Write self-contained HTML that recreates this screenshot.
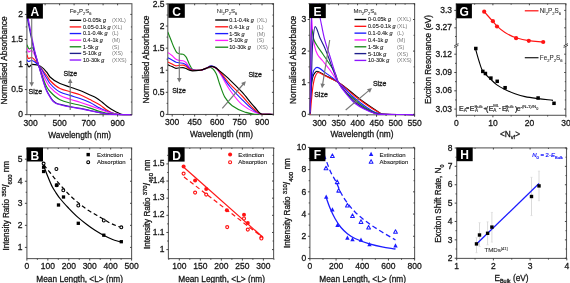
<!DOCTYPE html><html><head><meta charset="utf-8"><style>html,body{margin:0;padding:0;background:#fff;width:570px;height:283px;overflow:hidden;}svg{display:block;will-change:transform;filter:blur(0.3px);}</style></head><body>
<svg width="570" height="283" viewBox="0 0 570 283" font-family='"Liberation Sans", sans-serif'>
<rect width="570" height="283" fill="#fff"/>
<defs><clipPath id="cA"><rect x="26.90" y="3.70" width="105.00" height="111.80"/></clipPath></defs>
<rect x="26.90" y="3.70" width="105.00" height="110.90" fill="none" stroke="#5c5c5c" stroke-width="1.1"/>
<path d="M26.90,63.20 C27.60,64.47 28.30,67.00 29.00,67.00 C30.00,67.00 31.00,64.30 32.00,64.30 C34.20,64.30 36.40,64.75 38.60,65.30 C41.27,65.97 43.93,69.05 46.60,72.00 C47.73,73.26 48.87,75.90 50.00,77.00 C53.33,80.24 56.67,82.10 60.00,83.60 C63.33,85.10 66.67,85.85 70.00,87.00 C73.33,88.15 76.67,89.19 80.00,90.50 C83.33,91.81 86.67,93.47 90.00,95.00 C92.00,95.92 94.00,96.68 96.00,97.80 C98.00,98.92 100.00,100.48 102.00,102.00 C104.00,103.52 106.00,105.56 108.00,107.00 C110.00,108.44 112.00,109.69 114.00,110.80 C115.33,111.54 116.67,112.24 118.00,112.80 C119.67,113.50 121.33,114.60 123.00,114.60 C125.97,114.60 128.93,114.60 131.90,114.60" fill="none" stroke="#000000" stroke-width="1.15" stroke-linejoin="round" stroke-linecap="butt" clip-path="url(#cA)"/>
<path d="M26.90,54.70 C27.43,55.97 27.97,58.50 28.50,58.50 C29.50,58.50 30.50,57.50 31.50,57.50 C33.87,57.50 36.23,62.51 38.60,65.30 C41.27,68.44 43.93,71.82 46.60,75.50 C47.73,77.06 48.87,79.27 50.00,80.50 C53.33,84.10 56.67,86.85 60.00,88.40 C63.33,89.95 66.67,90.63 70.00,91.70 C73.33,92.77 76.67,93.54 80.00,94.80 C83.33,96.06 86.67,97.91 90.00,99.60 C93.33,101.29 96.67,102.88 100.00,105.00 C102.00,106.27 104.00,108.23 106.00,109.50 C108.00,110.77 110.00,112.15 112.00,112.80 C114.67,113.67 117.33,114.60 120.00,114.60 C123.97,114.60 127.93,114.60 131.90,114.60" fill="none" stroke="#ff1414" stroke-width="1.15" stroke-linejoin="round" stroke-linecap="butt" clip-path="url(#cA)"/>
<path d="M26.90,60.00 C27.43,60.50 27.97,61.50 28.50,61.50 C29.50,61.50 30.50,60.50 31.50,60.50 C33.87,60.50 36.23,63.07 38.60,65.30 C41.27,67.81 43.93,73.72 46.60,78.00 C47.73,79.82 48.87,82.17 50.00,83.50 C53.33,87.41 56.67,90.38 60.00,92.00 C63.33,93.62 66.67,94.32 70.00,95.40 C73.33,96.48 76.67,97.34 80.00,98.50 C83.33,99.66 86.67,100.94 90.00,102.50 C93.33,104.06 96.67,106.48 100.00,108.10 C103.33,109.72 106.67,111.36 110.00,112.40 C112.67,113.23 115.33,114.25 118.00,114.40 C120.00,114.51 122.00,114.60 124.00,114.60 C126.63,114.60 129.27,114.60 131.90,114.60" fill="none" stroke="#1c1cff" stroke-width="1.15" stroke-linejoin="round" stroke-linecap="butt" clip-path="url(#cA)"/>
<path d="M26.90,47.70 C27.43,49.13 27.97,52.00 28.50,52.00 C29.50,52.00 30.50,50.50 31.50,50.50 C33.87,50.50 36.23,60.39 38.60,65.30 C41.27,70.83 43.93,77.10 46.60,81.80 C47.73,83.80 48.87,85.91 50.00,87.20 C53.33,91.00 56.67,93.67 60.00,95.40 C63.33,97.13 66.67,98.08 70.00,99.20 C73.33,100.32 76.67,101.14 80.00,102.20 C83.33,103.26 86.67,104.42 90.00,105.60 C93.33,106.78 96.67,108.12 100.00,109.30 C103.33,110.48 106.67,111.84 110.00,112.70 C112.67,113.39 115.33,114.25 118.00,114.40 C120.00,114.51 122.00,114.60 124.00,114.60 C126.63,114.60 129.27,114.60 131.90,114.60" fill="none" stroke="#ff1cff" stroke-width="1.15" stroke-linejoin="round" stroke-linecap="butt" clip-path="url(#cA)"/>
<path d="M26.90,44.80 C27.67,46.20 28.43,49.00 29.20,49.00 C30.13,49.00 31.07,47.50 32.00,47.50 C34.20,47.50 36.40,59.39 38.60,65.30 C41.27,72.46 43.93,81.97 46.60,86.70 C47.73,88.71 48.87,90.27 50.00,91.50 C53.33,95.12 56.67,98.13 60.00,99.70 C63.33,101.27 66.67,102.10 70.00,103.00 C73.33,103.90 76.67,104.46 80.00,105.30 C83.33,106.14 86.67,107.08 90.00,108.10 C93.33,109.12 96.67,110.61 100.00,111.50 C103.33,112.39 106.67,113.25 110.00,113.70 C112.67,114.06 115.33,114.46 118.00,114.50 C122.63,114.57 127.27,114.57 131.90,114.60" fill="none" stroke="#1a8a1a" stroke-width="1.15" stroke-linejoin="round" stroke-linecap="butt" clip-path="url(#cA)"/>
<path d="M26.90,16.00 C28.60,24.33 30.30,33.22 32.00,41.00 C33.00,45.58 34.00,50.34 35.00,54.00 C36.20,58.39 37.40,61.55 38.60,65.30 C41.27,73.64 43.93,84.34 46.60,90.20 C47.73,92.69 48.87,94.50 50.00,96.30 C51.00,97.89 52.00,99.60 53.00,100.60 C54.00,101.60 55.00,102.41 56.00,102.90 C57.33,103.55 58.67,103.92 60.00,104.30 C63.33,105.25 66.67,105.95 70.00,106.60 C73.33,107.25 76.67,107.66 80.00,108.30 C83.33,108.94 86.67,109.78 90.00,110.50 C93.33,111.22 96.67,111.99 100.00,112.60 C103.33,113.21 106.67,113.95 110.00,114.20 C112.67,114.40 115.33,114.60 118.00,114.60 C122.63,114.60 127.27,114.60 131.90,114.60" fill="none" stroke="#1e1e8c" stroke-width="1.15" stroke-linejoin="round" stroke-linecap="butt" clip-path="url(#cA)"/>
<path d="M26.90,12.00 C28.60,20.67 30.30,29.75 32.00,38.00 C33.00,42.85 34.00,47.86 35.00,52.00 C36.20,56.97 37.40,61.13 38.60,65.30 C41.27,74.56 43.93,85.25 46.60,91.10 C47.73,93.59 48.87,95.33 50.00,97.10 C51.00,98.66 52.00,100.37 53.00,101.30 C54.00,102.23 55.00,102.95 56.00,103.40 C57.33,104.00 58.67,104.33 60.00,104.70 C63.33,105.62 66.67,106.37 70.00,107.00 C73.33,107.63 76.67,107.99 80.00,108.60 C83.33,109.21 86.67,110.02 90.00,110.70 C93.33,111.38 96.67,112.09 100.00,112.70 C103.33,113.31 106.67,114.26 110.00,114.40 C112.67,114.51 115.33,114.60 118.00,114.60 C122.63,114.60 127.27,114.60 131.90,114.60" fill="none" stroke="#8c14ff" stroke-width="1.15" stroke-linejoin="round" stroke-linecap="butt" clip-path="url(#cA)"/>
<line x1="30.60" y1="114.60" x2="30.60" y2="116.60" stroke="#333" stroke-width="0.90" />
<line x1="30.60" y1="3.70" x2="30.60" y2="5.30" stroke="#333" stroke-width="0.90" />
<line x1="45.10" y1="114.60" x2="45.10" y2="116.60" stroke="#333" stroke-width="0.90" />
<line x1="45.10" y1="3.70" x2="45.10" y2="5.30" stroke="#333" stroke-width="0.90" />
<line x1="59.60" y1="114.60" x2="59.60" y2="116.60" stroke="#333" stroke-width="0.90" />
<line x1="59.60" y1="3.70" x2="59.60" y2="5.30" stroke="#333" stroke-width="0.90" />
<line x1="74.10" y1="114.60" x2="74.10" y2="116.60" stroke="#333" stroke-width="0.90" />
<line x1="74.10" y1="3.70" x2="74.10" y2="5.30" stroke="#333" stroke-width="0.90" />
<line x1="88.60" y1="114.60" x2="88.60" y2="116.60" stroke="#333" stroke-width="0.90" />
<line x1="88.60" y1="3.70" x2="88.60" y2="5.30" stroke="#333" stroke-width="0.90" />
<line x1="103.10" y1="114.60" x2="103.10" y2="116.60" stroke="#333" stroke-width="0.90" />
<line x1="103.10" y1="3.70" x2="103.10" y2="5.30" stroke="#333" stroke-width="0.90" />
<line x1="117.60" y1="114.60" x2="117.60" y2="116.60" stroke="#333" stroke-width="0.90" />
<line x1="117.60" y1="3.70" x2="117.60" y2="5.30" stroke="#333" stroke-width="0.90" />
<line x1="26.90" y1="114.60" x2="24.90" y2="114.60" stroke="#333" stroke-width="0.90" />
<line x1="131.90" y1="114.60" x2="130.30" y2="114.60" stroke="#333" stroke-width="0.90" />
<line x1="26.90" y1="89.55" x2="24.90" y2="89.55" stroke="#333" stroke-width="0.90" />
<line x1="131.90" y1="89.55" x2="130.30" y2="89.55" stroke="#333" stroke-width="0.90" />
<line x1="26.90" y1="64.50" x2="24.90" y2="64.50" stroke="#333" stroke-width="0.90" />
<line x1="131.90" y1="64.50" x2="130.30" y2="64.50" stroke="#333" stroke-width="0.90" />
<line x1="26.90" y1="39.45" x2="24.90" y2="39.45" stroke="#333" stroke-width="0.90" />
<line x1="131.90" y1="39.45" x2="130.30" y2="39.45" stroke="#333" stroke-width="0.90" />
<line x1="26.90" y1="14.40" x2="24.90" y2="14.40" stroke="#333" stroke-width="0.90" />
<line x1="131.90" y1="14.40" x2="130.30" y2="14.40" stroke="#333" stroke-width="0.90" />
<line x1="26.90" y1="102.07" x2="25.70" y2="102.07" stroke="#333" stroke-width="0.90" />
<line x1="131.90" y1="102.07" x2="130.90" y2="102.07" stroke="#333" stroke-width="0.90" />
<line x1="26.90" y1="77.02" x2="25.70" y2="77.02" stroke="#333" stroke-width="0.90" />
<line x1="131.90" y1="77.02" x2="130.90" y2="77.02" stroke="#333" stroke-width="0.90" />
<line x1="26.90" y1="51.97" x2="25.70" y2="51.97" stroke="#333" stroke-width="0.90" />
<line x1="131.90" y1="51.97" x2="130.90" y2="51.97" stroke="#333" stroke-width="0.90" />
<line x1="26.90" y1="26.92" x2="25.70" y2="26.92" stroke="#333" stroke-width="0.90" />
<line x1="131.90" y1="26.92" x2="130.90" y2="26.92" stroke="#333" stroke-width="0.90" />
<text x="30.60" y="125.97" font-size="8.50" text-anchor="middle" fill="#161616" stroke="#161616" stroke-width="0.28" >300</text>
<text x="59.60" y="125.97" font-size="8.50" text-anchor="middle" fill="#161616" stroke="#161616" stroke-width="0.28" >500</text>
<text x="88.60" y="125.97" font-size="8.50" text-anchor="middle" fill="#161616" stroke="#161616" stroke-width="0.28" >700</text>
<text x="117.60" y="125.97" font-size="8.50" text-anchor="middle" fill="#161616" stroke="#161616" stroke-width="0.28" >900</text>
<text x="23.00" y="117.27" font-size="8.50" text-anchor="end" fill="#161616" stroke="#161616" stroke-width="0.28" >0</text>
<text x="23.00" y="92.22" font-size="8.50" text-anchor="end" fill="#161616" stroke="#161616" stroke-width="0.28" >0.5</text>
<text x="23.00" y="67.17" font-size="8.50" text-anchor="end" fill="#161616" stroke="#161616" stroke-width="0.28" >1</text>
<text x="23.00" y="42.12" font-size="8.50" text-anchor="end" fill="#161616" stroke="#161616" stroke-width="0.28" >1.5</text>
<text x="23.00" y="17.07" font-size="8.50" text-anchor="end" fill="#161616" stroke="#161616" stroke-width="0.28" >2</text>
<text x="79.70" y="137.91" font-size="8.30" text-anchor="middle" fill="#161616" stroke="#161616" stroke-width="0.28" >Wavelength (nm)</text>
<text transform="translate(7.00,60.50) rotate(-90)" font-size="8.30" text-anchor="middle" fill="#161616" stroke="#161616" stroke-width="0.28">Normalised Absorbance</text>
<rect x="26.60" y="3.90" width="16.30" height="14.70" fill="#000"/>
<text x="34.75" y="16.29" font-size="12" font-weight="bold" text-anchor="middle" fill="#fff">A</text>
<line x1="31.70" y1="18.60" x2="31.70" y2="83.10" stroke="#777" stroke-width="1.15" />
<path d="M31.70,86.80 L29.40,82.30 L34.00,82.30 Z" fill="#777"/>
<text x="35.30" y="93.65" font-size="7.00" text-anchor="middle" fill="#161616" stroke="#161616" stroke-width="0.28" >Size</text>
<line x1="70.20" y1="110.00" x2="70.20" y2="82.30" stroke="#777" stroke-width="1.15" />
<path d="M70.20,78.60 L72.50,83.10 L67.90,83.10 Z" fill="#777"/>
<text x="70.40" y="76.25" font-size="7.00" text-anchor="middle" fill="#161616" stroke="#161616" stroke-width="0.28" >Size</text>
<text x="69.70" y="13.40" font-size="6.00" text-anchor="start" fill="#333" stroke="#333" stroke-width="0.10" ><tspan font-size="6.00" dy="0.00">Fe</tspan><tspan font-size="3.96" dy="1.80">2</tspan><tspan font-size="6.00" dy="-1.80">P</tspan><tspan font-size="3.96" dy="1.80">2</tspan><tspan font-size="6.00" dy="-1.80">S</tspan><tspan font-size="3.96" dy="1.80">6</tspan></text>
<line x1="69.70" y1="20.30" x2="81.20" y2="20.30" stroke="#000000" stroke-width="1.35" />
<text x="83.00" y="22.23" font-size="5.50" fill="#222" stroke="#222" stroke-width="0.12">0-0.05k <tspan font-style="italic">g</tspan></text>
<text x="111.90" y="22.23" font-size="5.50" fill="#7c7c7c">(XXL)</text>
<line x1="69.70" y1="26.92" x2="81.20" y2="26.92" stroke="#ff1414" stroke-width="1.35" />
<text x="83.00" y="28.85" font-size="5.50" fill="#222" stroke="#222" stroke-width="0.12">0.05-0.1k <tspan font-style="italic">g</tspan></text>
<text x="111.90" y="28.85" font-size="5.50" fill="#7c7c7c">(XL)</text>
<line x1="69.70" y1="33.54" x2="81.20" y2="33.54" stroke="#1c1cff" stroke-width="1.35" />
<text x="83.00" y="35.46" font-size="5.50" fill="#222" stroke="#222" stroke-width="0.12">0.1-0.4k <tspan font-style="italic">g</tspan></text>
<text x="111.90" y="35.46" font-size="5.50" fill="#7c7c7c">(L)</text>
<line x1="69.70" y1="40.16" x2="81.20" y2="40.16" stroke="#ff1cff" stroke-width="1.35" />
<text x="83.00" y="42.08" font-size="5.50" fill="#222" stroke="#222" stroke-width="0.12">0.4-1k <tspan font-style="italic">g</tspan></text>
<text x="111.90" y="42.08" font-size="5.50" fill="#7c7c7c">(M)</text>
<line x1="69.70" y1="46.78" x2="81.20" y2="46.78" stroke="#1a8a1a" stroke-width="1.35" />
<text x="83.00" y="48.70" font-size="5.50" fill="#222" stroke="#222" stroke-width="0.12">1-5k <tspan font-style="italic">g</tspan></text>
<text x="111.90" y="48.70" font-size="5.50" fill="#7c7c7c">(S)</text>
<line x1="69.70" y1="53.40" x2="81.20" y2="53.40" stroke="#1e1e8c" stroke-width="1.35" />
<text x="83.00" y="55.33" font-size="5.50" fill="#222" stroke="#222" stroke-width="0.12">5-10k <tspan font-style="italic">g</tspan></text>
<text x="111.90" y="55.33" font-size="5.50" fill="#7c7c7c">(XS)</text>
<line x1="69.70" y1="60.02" x2="81.20" y2="60.02" stroke="#8c14ff" stroke-width="1.35" />
<text x="83.00" y="61.94" font-size="5.50" fill="#222" stroke="#222" stroke-width="0.12">10-30k <tspan font-style="italic">g</tspan></text>
<text x="111.90" y="61.94" font-size="5.50" fill="#7c7c7c">(XXS)</text>
<defs><clipPath id="cC"><rect x="167.80" y="3.70" width="105.70" height="111.70"/></clipPath></defs>
<rect x="167.80" y="3.70" width="105.70" height="110.80" fill="none" stroke="#5c5c5c" stroke-width="1.1"/>
<path d="M167.80,32.00 C168.87,34.67 169.93,37.33 171.00,40.00 C172.00,42.50 173.00,45.43 174.00,47.50 C175.00,49.57 176.00,52.15 177.00,52.80 C178.00,53.45 179.00,53.84 180.00,54.00 C181.00,54.16 182.00,54.12 183.00,54.30 C184.00,54.48 185.00,55.59 186.00,56.80 C187.00,58.01 188.00,61.59 189.00,63.50 C190.17,65.73 191.33,68.78 192.50,69.30 C193.67,69.82 194.83,70.20 196.00,70.20 C197.43,70.20 198.87,70.11 200.30,70.00 C202.20,69.86 204.10,69.11 206.00,68.60 C207.50,68.20 209.00,67.30 210.50,67.30 C211.50,67.30 212.50,68.49 213.50,69.50 C214.37,70.38 215.23,71.85 216.10,73.60 C217.37,76.15 218.63,81.35 219.90,84.80 C221.53,89.24 223.17,94.42 224.80,97.10 C227.27,101.15 229.73,104.01 232.20,105.80 C236.33,108.80 240.47,110.71 244.60,112.00 C247.90,113.03 251.20,114.23 254.50,114.30 C260.83,114.44 267.17,114.43 273.50,114.50" fill="none" stroke="#1a8a1a" stroke-width="1.15" stroke-linejoin="round" stroke-linecap="butt" clip-path="url(#cC)"/>
<path d="M167.80,52.40 C169.20,53.43 170.60,54.34 172.00,55.50 C173.33,56.61 174.67,58.61 176.00,59.30 C177.00,59.82 178.00,60.24 179.00,60.40 C180.33,60.62 181.67,60.57 183.00,60.80 C184.00,60.98 185.00,61.68 186.00,62.50 C187.00,63.32 188.00,65.90 189.00,67.00 C190.17,68.28 191.33,69.93 192.50,70.00 C195.10,70.15 197.70,70.20 200.30,70.20 C202.20,70.20 204.10,69.14 206.00,68.50 C207.67,67.94 209.33,66.60 211.00,66.60 C212.67,66.60 214.33,67.21 216.00,68.00 C217.33,68.64 218.67,71.51 220.00,73.50 C223.27,78.38 226.53,85.42 229.80,90.00 C233.90,95.75 238.00,101.34 242.10,104.60 C246.23,107.88 250.37,110.37 254.50,112.00 C257.00,112.99 259.50,114.21 262.00,114.30 C265.83,114.43 269.67,114.43 273.50,114.50" fill="none" stroke="#ff1cff" stroke-width="1.15" stroke-linejoin="round" stroke-linecap="butt" clip-path="url(#cC)"/>
<path d="M167.80,57.70 C169.20,58.47 170.60,59.23 172.00,60.00 C173.33,60.73 174.67,61.82 176.00,62.20 C177.00,62.49 178.00,62.66 179.00,62.80 C180.33,62.98 181.67,62.97 183.00,63.20 C184.00,63.37 185.00,64.09 186.00,64.80 C187.00,65.51 188.00,67.25 189.00,68.00 C190.17,68.88 191.33,69.94 192.50,70.00 C195.10,70.14 197.70,70.20 200.30,70.20 C202.20,70.20 204.10,69.06 206.00,68.30 C207.67,67.63 209.33,65.80 211.00,65.80 C212.67,65.80 214.33,66.59 216.00,67.50 C217.33,68.23 218.67,70.74 220.00,72.50 C223.27,76.82 226.53,82.49 229.80,86.50 C233.90,91.53 238.00,95.61 242.10,99.60 C246.23,103.62 250.37,108.18 254.50,110.70 C257.00,112.22 259.50,114.21 262.00,114.30 C265.83,114.44 269.67,114.43 273.50,114.50" fill="none" stroke="#1c1cff" stroke-width="1.15" stroke-linejoin="round" stroke-linecap="butt" clip-path="url(#cC)"/>
<path d="M167.80,62.10 C169.20,62.73 170.60,63.37 172.00,64.00 C173.33,64.60 174.67,65.80 176.00,65.80 C177.33,65.80 178.67,65.41 180.00,65.30 C181.00,65.21 182.00,65.10 183.00,65.10 C184.00,65.10 185.00,65.75 186.00,66.30 C187.00,66.85 188.00,68.50 189.00,69.00 C190.17,69.59 191.33,70.20 192.50,70.20 C195.10,70.20 197.70,70.20 200.30,70.20 C202.20,70.20 204.10,68.98 206.00,68.30 C207.83,67.65 209.67,66.20 211.50,66.20 C213.00,66.20 214.50,67.14 216.00,68.00 C217.33,68.77 218.67,70.56 220.00,72.00 C223.27,75.52 226.53,80.23 229.80,83.80 C233.90,88.28 238.00,91.74 242.10,96.00 C246.23,100.29 250.37,106.24 254.50,109.50 C257.00,111.47 259.50,114.21 262.00,114.30 C265.83,114.44 269.67,114.43 273.50,114.50" fill="none" stroke="#ff1414" stroke-width="1.15" stroke-linejoin="round" stroke-linecap="butt" clip-path="url(#cC)"/>
<path d="M167.80,64.80 C169.20,65.37 170.60,65.90 172.00,66.50 C173.33,67.07 174.67,68.30 176.00,68.30 C177.33,68.30 178.67,67.91 180.00,67.80 C181.00,67.71 182.00,67.60 183.00,67.60 C184.00,67.60 185.00,68.12 186.00,68.50 C187.00,68.88 188.00,69.68 189.00,70.00 C190.17,70.37 191.33,70.80 192.50,70.80 C195.10,70.80 197.70,70.59 200.30,70.30 C202.20,70.09 204.10,69.03 206.00,68.40 C208.00,67.73 210.00,66.40 212.00,66.40 C214.63,66.40 217.27,69.24 219.90,71.10 C223.20,73.42 226.50,76.71 229.80,79.80 C233.90,83.64 238.00,87.72 242.10,92.20 C246.23,96.72 250.37,102.60 254.50,107.00 C257.00,109.66 259.50,114.21 262.00,114.30 C265.83,114.44 269.67,114.43 273.50,114.50" fill="none" stroke="#000000" stroke-width="1.15" stroke-linejoin="round" stroke-linecap="butt" clip-path="url(#cC)"/>
<line x1="172.20" y1="114.50" x2="172.20" y2="116.50" stroke="#333" stroke-width="0.90" />
<line x1="172.20" y1="3.70" x2="172.20" y2="5.30" stroke="#333" stroke-width="0.90" />
<line x1="194.65" y1="114.50" x2="194.65" y2="116.50" stroke="#333" stroke-width="0.90" />
<line x1="194.65" y1="3.70" x2="194.65" y2="5.30" stroke="#333" stroke-width="0.90" />
<line x1="217.11" y1="114.50" x2="217.11" y2="116.50" stroke="#333" stroke-width="0.90" />
<line x1="217.11" y1="3.70" x2="217.11" y2="5.30" stroke="#333" stroke-width="0.90" />
<line x1="239.56" y1="114.50" x2="239.56" y2="116.50" stroke="#333" stroke-width="0.90" />
<line x1="239.56" y1="3.70" x2="239.56" y2="5.30" stroke="#333" stroke-width="0.90" />
<line x1="262.02" y1="114.50" x2="262.02" y2="116.50" stroke="#333" stroke-width="0.90" />
<line x1="262.02" y1="3.70" x2="262.02" y2="5.30" stroke="#333" stroke-width="0.90" />
<line x1="183.43" y1="114.50" x2="183.43" y2="115.70" stroke="#333" stroke-width="0.90" />
<line x1="183.43" y1="3.70" x2="183.43" y2="4.70" stroke="#333" stroke-width="0.90" />
<line x1="205.88" y1="114.50" x2="205.88" y2="115.70" stroke="#333" stroke-width="0.90" />
<line x1="205.88" y1="3.70" x2="205.88" y2="4.70" stroke="#333" stroke-width="0.90" />
<line x1="228.34" y1="114.50" x2="228.34" y2="115.70" stroke="#333" stroke-width="0.90" />
<line x1="228.34" y1="3.70" x2="228.34" y2="4.70" stroke="#333" stroke-width="0.90" />
<line x1="250.79" y1="114.50" x2="250.79" y2="115.70" stroke="#333" stroke-width="0.90" />
<line x1="250.79" y1="3.70" x2="250.79" y2="4.70" stroke="#333" stroke-width="0.90" />
<line x1="273.25" y1="114.50" x2="273.25" y2="115.70" stroke="#333" stroke-width="0.90" />
<line x1="273.25" y1="3.70" x2="273.25" y2="4.70" stroke="#333" stroke-width="0.90" />
<line x1="167.80" y1="114.40" x2="165.80" y2="114.40" stroke="#333" stroke-width="0.90" />
<line x1="273.50" y1="114.40" x2="271.90" y2="114.40" stroke="#333" stroke-width="0.90" />
<line x1="167.80" y1="92.32" x2="165.80" y2="92.32" stroke="#333" stroke-width="0.90" />
<line x1="273.50" y1="92.32" x2="271.90" y2="92.32" stroke="#333" stroke-width="0.90" />
<line x1="167.80" y1="70.24" x2="165.80" y2="70.24" stroke="#333" stroke-width="0.90" />
<line x1="273.50" y1="70.24" x2="271.90" y2="70.24" stroke="#333" stroke-width="0.90" />
<line x1="167.80" y1="48.16" x2="165.80" y2="48.16" stroke="#333" stroke-width="0.90" />
<line x1="273.50" y1="48.16" x2="271.90" y2="48.16" stroke="#333" stroke-width="0.90" />
<line x1="167.80" y1="26.08" x2="165.80" y2="26.08" stroke="#333" stroke-width="0.90" />
<line x1="273.50" y1="26.08" x2="271.90" y2="26.08" stroke="#333" stroke-width="0.90" />
<line x1="167.80" y1="4.00" x2="165.80" y2="4.00" stroke="#333" stroke-width="0.90" />
<line x1="273.50" y1="4.00" x2="271.90" y2="4.00" stroke="#333" stroke-width="0.90" />
<line x1="167.80" y1="103.36" x2="166.60" y2="103.36" stroke="#333" stroke-width="0.90" />
<line x1="273.50" y1="103.36" x2="272.50" y2="103.36" stroke="#333" stroke-width="0.90" />
<line x1="167.80" y1="81.28" x2="166.60" y2="81.28" stroke="#333" stroke-width="0.90" />
<line x1="273.50" y1="81.28" x2="272.50" y2="81.28" stroke="#333" stroke-width="0.90" />
<line x1="167.80" y1="59.20" x2="166.60" y2="59.20" stroke="#333" stroke-width="0.90" />
<line x1="273.50" y1="59.20" x2="272.50" y2="59.20" stroke="#333" stroke-width="0.90" />
<line x1="167.80" y1="37.12" x2="166.60" y2="37.12" stroke="#333" stroke-width="0.90" />
<line x1="273.50" y1="37.12" x2="272.50" y2="37.12" stroke="#333" stroke-width="0.90" />
<line x1="167.80" y1="15.04" x2="166.60" y2="15.04" stroke="#333" stroke-width="0.90" />
<line x1="273.50" y1="15.04" x2="272.50" y2="15.04" stroke="#333" stroke-width="0.90" />
<text x="172.20" y="124.97" font-size="8.50" text-anchor="middle" fill="#161616" stroke="#161616" stroke-width="0.28" >300</text>
<text x="194.65" y="124.97" font-size="8.50" text-anchor="middle" fill="#161616" stroke="#161616" stroke-width="0.28" >450</text>
<text x="217.11" y="124.97" font-size="8.50" text-anchor="middle" fill="#161616" stroke="#161616" stroke-width="0.28" >600</text>
<text x="239.56" y="124.97" font-size="8.50" text-anchor="middle" fill="#161616" stroke="#161616" stroke-width="0.28" >750</text>
<text x="262.02" y="124.97" font-size="8.50" text-anchor="middle" fill="#161616" stroke="#161616" stroke-width="0.28" >900</text>
<text x="164.50" y="117.08" font-size="8.50" text-anchor="end" fill="#161616" stroke="#161616" stroke-width="0.28" >0</text>
<text x="164.50" y="95.00" font-size="8.50" text-anchor="end" fill="#161616" stroke="#161616" stroke-width="0.28" >0.5</text>
<text x="164.50" y="72.92" font-size="8.50" text-anchor="end" fill="#161616" stroke="#161616" stroke-width="0.28" >1</text>
<text x="164.50" y="50.84" font-size="8.50" text-anchor="end" fill="#161616" stroke="#161616" stroke-width="0.28" >1.5</text>
<text x="164.50" y="28.76" font-size="8.50" text-anchor="end" fill="#161616" stroke="#161616" stroke-width="0.28" >2</text>
<text x="164.50" y="6.68" font-size="8.50" text-anchor="end" fill="#161616" stroke="#161616" stroke-width="0.28" >2.5</text>
<text x="221.50" y="137.21" font-size="8.30" text-anchor="middle" fill="#161616" stroke="#161616" stroke-width="0.28" >Wavelength (nm)</text>
<text transform="translate(149.21,59.55) rotate(-90)" font-size="8.30" text-anchor="middle" fill="#161616" stroke="#161616" stroke-width="0.28">Normalised Absorbance</text>
<rect x="168.40" y="4.00" width="16.40" height="13.80" fill="#000"/>
<text x="176.60" y="15.94" font-size="12" font-weight="bold" text-anchor="middle" fill="#fff">C</text>
<line x1="179.30" y1="46.50" x2="179.30" y2="78.80" stroke="#777" stroke-width="1.15" />
<path d="M179.30,82.50 L177.00,78.00 L181.60,78.00 Z" fill="#777"/>
<text x="179.00" y="92.85" font-size="7.00" text-anchor="middle" fill="#161616" stroke="#161616" stroke-width="0.28" >Size</text>
<line x1="222.30" y1="108.30" x2="243.38" y2="84.00" stroke="#777" stroke-width="1.15" />
<path d="M245.80,81.20 L244.59,86.11 L241.11,83.09 Z" fill="#777"/>
<text x="255.20" y="76.55" font-size="7.00" text-anchor="middle" fill="#161616" stroke="#161616" stroke-width="0.28" >Size</text>
<text x="216.80" y="13.10" font-size="6.00" text-anchor="start" fill="#333" stroke="#333" stroke-width="0.10" ><tspan font-size="6.00" dy="0.00">Ni</tspan><tspan font-size="3.96" dy="1.80">2</tspan><tspan font-size="6.00" dy="-1.80">P</tspan><tspan font-size="3.96" dy="1.80">2</tspan><tspan font-size="6.00" dy="-1.80">S</tspan><tspan font-size="3.96" dy="1.80">6</tspan></text>
<line x1="215.20" y1="20.00" x2="228.20" y2="20.00" stroke="#000000" stroke-width="1.35" />
<text x="229.30" y="21.93" font-size="5.50" fill="#222" stroke="#222" stroke-width="0.12">0.1-0.4k <tspan font-style="italic">g</tspan></text>
<text x="256.80" y="21.93" font-size="5.50" fill="#7c7c7c">(XL)</text>
<line x1="215.20" y1="26.80" x2="228.20" y2="26.80" stroke="#ff1414" stroke-width="1.35" />
<text x="229.30" y="28.73" font-size="5.50" fill="#222" stroke="#222" stroke-width="0.12">0.4-1k <tspan font-style="italic">g</tspan></text>
<text x="256.80" y="28.73" font-size="5.50" fill="#7c7c7c">(L)</text>
<line x1="215.20" y1="33.60" x2="228.20" y2="33.60" stroke="#1c1cff" stroke-width="1.35" />
<text x="229.30" y="35.52" font-size="5.50" fill="#222" stroke="#222" stroke-width="0.12">1-5k <tspan font-style="italic">g</tspan></text>
<text x="256.80" y="35.52" font-size="5.50" fill="#7c7c7c">(M)</text>
<line x1="215.20" y1="40.40" x2="228.20" y2="40.40" stroke="#ff1cff" stroke-width="1.35" />
<text x="229.30" y="42.32" font-size="5.50" fill="#222" stroke="#222" stroke-width="0.12">5-10k <tspan font-style="italic">g</tspan></text>
<text x="256.80" y="42.32" font-size="5.50" fill="#7c7c7c">(S)</text>
<line x1="215.20" y1="47.20" x2="228.20" y2="47.20" stroke="#1a8a1a" stroke-width="1.35" />
<text x="229.30" y="49.12" font-size="5.50" fill="#222" stroke="#222" stroke-width="0.12">10-30k <tspan font-style="italic">g</tspan></text>
<text x="256.80" y="49.12" font-size="5.50" fill="#7c7c7c">(XS)</text>
<defs><clipPath id="cE"><rect x="309.70" y="3.70" width="104.90" height="112.00"/></clipPath></defs>
<rect x="309.70" y="3.70" width="104.90" height="111.10" fill="none" stroke="#5c5c5c" stroke-width="1.1"/>
<path d="M310.10,114.00 C310.33,107.67 310.57,99.19 310.80,95.00 C311.13,89.02 311.47,84.18 311.80,82.00 C312.37,78.29 312.93,76.04 313.50,75.00 C314.67,72.85 315.83,71.20 317.00,71.20 C319.67,71.20 322.33,73.92 325.00,75.30 C329.40,77.58 333.80,79.48 338.20,82.20 C343.60,85.53 349.00,90.39 354.40,94.60 C357.63,97.12 360.87,99.94 364.10,102.30 C368.63,105.61 373.17,108.55 377.70,111.40 C379.13,112.30 380.57,113.93 382.00,114.00 C393.00,114.51 404.00,114.40 415.00,114.60" fill="none" stroke="#000000" stroke-width="1.15" stroke-linejoin="round" stroke-linecap="butt" clip-path="url(#cE)"/>
<path d="M310.30,114.50 C310.70,109.67 311.10,104.23 311.50,100.00 C312.00,94.71 312.50,89.09 313.00,86.00 C313.67,81.88 314.33,78.55 315.00,77.00 C316.00,74.67 317.00,72.50 318.00,72.50 C320.33,72.50 322.67,74.69 325.00,75.80 C329.40,77.90 333.80,79.52 338.20,82.20 C343.60,85.49 349.00,91.57 354.40,95.80 C357.63,98.33 360.87,100.76 364.10,103.00 C368.63,106.15 373.17,109.45 377.70,111.80 C379.47,112.72 381.23,114.14 383.00,114.20 C393.67,114.54 404.33,114.47 415.00,114.60" fill="none" stroke="#ff1414" stroke-width="1.15" stroke-linejoin="round" stroke-linecap="butt" clip-path="url(#cE)"/>
<path d="M309.90,114.00 C310.20,107.67 310.50,100.13 310.80,95.00 C311.20,88.15 311.60,80.62 312.00,78.00 C312.67,73.64 313.33,71.02 314.00,70.00 C315.00,68.47 316.00,67.30 317.00,67.30 C319.67,67.30 322.33,70.67 325.00,72.50 C329.40,75.52 333.80,78.53 338.20,82.20 C343.60,86.70 349.00,93.39 354.40,98.00 C357.63,100.76 360.87,103.26 364.10,105.50 C367.73,108.01 371.37,111.03 375.00,112.30 C377.67,113.23 380.33,114.24 383.00,114.30 C393.67,114.54 404.33,114.50 415.00,114.60" fill="none" stroke="#1c1cff" stroke-width="1.15" stroke-linejoin="round" stroke-linecap="butt" clip-path="url(#cE)"/>
<path d="M309.90,112.00 C310.13,94.67 310.37,74.61 310.60,60.00 C310.87,43.31 311.13,17.00 311.40,17.00 C311.77,17.00 312.13,26.37 312.50,30.00 C313.10,35.95 313.70,42.25 314.30,45.00 C315.37,49.89 316.43,52.58 317.50,54.50 C319.27,57.68 321.03,58.81 322.80,61.00 C324.93,63.64 327.07,66.13 329.20,69.00 C332.20,73.03 335.20,78.32 338.20,82.20 C343.60,89.18 349.00,95.70 354.40,100.50 C357.63,103.37 360.87,105.80 364.10,107.80 C367.07,109.64 370.03,111.45 373.00,112.50 C375.33,113.33 377.67,114.37 380.00,114.40 C391.67,114.57 403.33,114.53 415.00,114.60" fill="none" stroke="#ff1cff" stroke-width="1.15" stroke-linejoin="round" stroke-linecap="butt" clip-path="url(#cE)"/>
<path d="M309.90,112.00 C310.20,91.33 310.50,60.46 310.80,50.00 C311.10,39.54 311.40,29.00 311.70,29.00 C312.40,29.00 313.10,37.49 313.80,39.50 C314.70,42.08 315.60,43.26 316.50,44.80 C318.60,48.39 320.70,50.91 322.80,54.00 C324.93,57.14 327.07,60.15 329.20,63.50 C331.30,66.80 333.40,69.30 335.50,74.00 C336.40,76.02 337.30,80.59 338.20,82.20 C343.60,91.83 349.00,94.72 354.40,99.50 C357.63,102.36 360.87,104.90 364.10,107.00 C367.07,108.93 370.03,110.82 373.00,112.00 C375.33,112.93 377.67,114.14 380.00,114.20 C391.67,114.52 403.33,114.47 415.00,114.60" fill="none" stroke="#1a8a1a" stroke-width="1.15" stroke-linejoin="round" stroke-linecap="butt" clip-path="url(#cE)"/>
<path d="M309.90,113.00 C310.33,103.67 310.77,95.74 311.20,85.00 C311.67,73.44 312.13,49.42 312.60,44.00 C313.47,33.93 314.33,26.60 315.20,26.60 C316.80,26.60 318.40,34.49 320.00,38.00 C321.47,41.22 322.93,43.69 324.40,47.00 C325.60,49.71 326.80,52.87 328.00,56.00 C329.77,60.60 331.53,66.00 333.30,70.50 C334.93,74.66 336.57,79.34 338.20,82.20 C341.03,87.17 343.87,90.13 346.70,93.50 C349.27,96.55 351.83,99.66 354.40,101.80 C357.63,104.50 360.87,106.51 364.10,108.30 C367.07,109.94 370.03,111.52 373.00,112.50 C375.33,113.27 377.67,114.25 380.00,114.30 C391.67,114.54 403.33,114.50 415.00,114.60" fill="none" stroke="#1e1e8c" stroke-width="1.15" stroke-linejoin="round" stroke-linecap="butt" clip-path="url(#cE)"/>
<path d="M309.90,112.00 C310.20,94.67 310.50,75.33 310.80,60.00 C311.17,41.27 311.53,13.68 311.90,10.00 C312.93,-0.37 313.97,-5.00 315.00,-5.00 C316.70,-5.00 318.40,10.11 320.10,18.00 C321.57,24.81 323.03,33.38 324.50,39.00 C326.23,45.64 327.97,49.93 329.70,55.50 C331.13,60.11 332.57,65.01 334.00,69.50 C335.40,73.89 336.80,79.35 338.20,82.20 C341.03,87.98 343.87,90.96 346.70,94.50 C349.27,97.71 351.83,100.94 354.40,103.00 C357.63,105.59 360.87,107.37 364.10,109.00 C367.07,110.49 370.03,111.93 373.00,112.80 C375.33,113.49 377.67,114.37 380.00,114.40 C391.67,114.56 403.33,114.53 415.00,114.60" fill="none" stroke="#8c14ff" stroke-width="1.15" stroke-linejoin="round" stroke-linecap="butt" clip-path="url(#cE)"/>
<line x1="319.50" y1="114.80" x2="319.50" y2="116.80" stroke="#333" stroke-width="0.90" />
<line x1="319.50" y1="3.70" x2="319.50" y2="5.30" stroke="#333" stroke-width="0.90" />
<line x1="338.52" y1="114.80" x2="338.52" y2="116.80" stroke="#333" stroke-width="0.90" />
<line x1="338.52" y1="3.70" x2="338.52" y2="5.30" stroke="#333" stroke-width="0.90" />
<line x1="357.54" y1="114.80" x2="357.54" y2="116.80" stroke="#333" stroke-width="0.90" />
<line x1="357.54" y1="3.70" x2="357.54" y2="5.30" stroke="#333" stroke-width="0.90" />
<line x1="376.56" y1="114.80" x2="376.56" y2="116.80" stroke="#333" stroke-width="0.90" />
<line x1="376.56" y1="3.70" x2="376.56" y2="5.30" stroke="#333" stroke-width="0.90" />
<line x1="395.58" y1="114.80" x2="395.58" y2="116.80" stroke="#333" stroke-width="0.90" />
<line x1="395.58" y1="3.70" x2="395.58" y2="5.30" stroke="#333" stroke-width="0.90" />
<line x1="414.60" y1="114.80" x2="414.60" y2="116.80" stroke="#333" stroke-width="0.90" />
<line x1="414.60" y1="3.70" x2="414.60" y2="5.30" stroke="#333" stroke-width="0.90" />
<line x1="329.01" y1="114.80" x2="329.01" y2="116.00" stroke="#333" stroke-width="0.90" />
<line x1="329.01" y1="3.70" x2="329.01" y2="4.70" stroke="#333" stroke-width="0.90" />
<line x1="348.03" y1="114.80" x2="348.03" y2="116.00" stroke="#333" stroke-width="0.90" />
<line x1="348.03" y1="3.70" x2="348.03" y2="4.70" stroke="#333" stroke-width="0.90" />
<line x1="367.05" y1="114.80" x2="367.05" y2="116.00" stroke="#333" stroke-width="0.90" />
<line x1="367.05" y1="3.70" x2="367.05" y2="4.70" stroke="#333" stroke-width="0.90" />
<line x1="386.07" y1="114.80" x2="386.07" y2="116.00" stroke="#333" stroke-width="0.90" />
<line x1="386.07" y1="3.70" x2="386.07" y2="4.70" stroke="#333" stroke-width="0.90" />
<line x1="405.09" y1="114.80" x2="405.09" y2="116.00" stroke="#333" stroke-width="0.90" />
<line x1="405.09" y1="3.70" x2="405.09" y2="4.70" stroke="#333" stroke-width="0.90" />
<line x1="309.70" y1="114.30" x2="307.70" y2="114.30" stroke="#333" stroke-width="0.90" />
<line x1="414.60" y1="114.30" x2="413.00" y2="114.30" stroke="#333" stroke-width="0.90" />
<line x1="309.70" y1="82.70" x2="307.70" y2="82.70" stroke="#333" stroke-width="0.90" />
<line x1="414.60" y1="82.70" x2="413.00" y2="82.70" stroke="#333" stroke-width="0.90" />
<line x1="309.70" y1="51.10" x2="307.70" y2="51.10" stroke="#333" stroke-width="0.90" />
<line x1="414.60" y1="51.10" x2="413.00" y2="51.10" stroke="#333" stroke-width="0.90" />
<line x1="309.70" y1="19.50" x2="307.70" y2="19.50" stroke="#333" stroke-width="0.90" />
<line x1="414.60" y1="19.50" x2="413.00" y2="19.50" stroke="#333" stroke-width="0.90" />
<line x1="309.70" y1="98.50" x2="308.50" y2="98.50" stroke="#333" stroke-width="0.90" />
<line x1="414.60" y1="98.50" x2="413.60" y2="98.50" stroke="#333" stroke-width="0.90" />
<line x1="309.70" y1="66.90" x2="308.50" y2="66.90" stroke="#333" stroke-width="0.90" />
<line x1="414.60" y1="66.90" x2="413.60" y2="66.90" stroke="#333" stroke-width="0.90" />
<line x1="309.70" y1="35.30" x2="308.50" y2="35.30" stroke="#333" stroke-width="0.90" />
<line x1="414.60" y1="35.30" x2="413.60" y2="35.30" stroke="#333" stroke-width="0.90" />
<line x1="309.70" y1="3.70" x2="308.50" y2="3.70" stroke="#333" stroke-width="0.90" />
<line x1="414.60" y1="3.70" x2="413.60" y2="3.70" stroke="#333" stroke-width="0.90" />
<text x="319.50" y="125.77" font-size="8.50" text-anchor="middle" fill="#161616" stroke="#161616" stroke-width="0.28" >300</text>
<text x="338.52" y="125.77" font-size="8.50" text-anchor="middle" fill="#161616" stroke="#161616" stroke-width="0.28" >350</text>
<text x="357.54" y="125.77" font-size="8.50" text-anchor="middle" fill="#161616" stroke="#161616" stroke-width="0.28" >400</text>
<text x="376.56" y="125.77" font-size="8.50" text-anchor="middle" fill="#161616" stroke="#161616" stroke-width="0.28" >450</text>
<text x="395.58" y="125.77" font-size="8.50" text-anchor="middle" fill="#161616" stroke="#161616" stroke-width="0.28" >500</text>
<text x="414.60" y="125.77" font-size="8.50" text-anchor="middle" fill="#161616" stroke="#161616" stroke-width="0.28" >550</text>
<text x="306.30" y="116.97" font-size="8.50" text-anchor="end" fill="#161616" stroke="#161616" stroke-width="0.28" >0</text>
<text x="306.30" y="85.37" font-size="8.50" text-anchor="end" fill="#161616" stroke="#161616" stroke-width="0.28" >1</text>
<text x="306.30" y="53.77" font-size="8.50" text-anchor="end" fill="#161616" stroke="#161616" stroke-width="0.28" >2</text>
<text x="306.30" y="22.17" font-size="8.50" text-anchor="end" fill="#161616" stroke="#161616" stroke-width="0.28" >3</text>
<text x="362.00" y="137.41" font-size="8.30" text-anchor="middle" fill="#161616" stroke="#161616" stroke-width="0.28" >Wavelength (nm)</text>
<text transform="translate(296.10,59.85) rotate(-90)" font-size="8.30" text-anchor="middle" fill="#161616" stroke="#161616" stroke-width="0.28">Normalised Absorbance</text>
<rect x="309.20" y="3.80" width="16.60" height="14.30" fill="#000"/>
<text x="317.50" y="15.99" font-size="12" font-weight="bold" text-anchor="middle" fill="#fff">E</text>
<line x1="329.70" y1="40.00" x2="322.58" y2="84.55" stroke="#777" stroke-width="1.15" />
<path d="M322.00,88.20 L320.44,83.39 L324.98,84.12 Z" fill="#777"/>
<text x="321.00" y="97.05" font-size="7.00" text-anchor="middle" fill="#161616" stroke="#161616" stroke-width="0.28" >Size</text>
<line x1="345.70" y1="110.00" x2="369.07" y2="90.38" stroke="#777" stroke-width="1.15" />
<path d="M371.90,88.00 L369.93,92.66 L366.97,89.13 Z" fill="#777"/>
<text x="379.70" y="86.45" font-size="7.00" text-anchor="middle" fill="#161616" stroke="#161616" stroke-width="0.28" >Size</text>
<text x="353.50" y="12.70" font-size="6.00" text-anchor="start" fill="#333" stroke="#333" stroke-width="0.10" ><tspan font-size="6.00" dy="0.00">Mn</tspan><tspan font-size="3.96" dy="1.80">2</tspan><tspan font-size="6.00" dy="-1.80">P</tspan><tspan font-size="3.96" dy="1.80">2</tspan><tspan font-size="6.00" dy="-1.80">S</tspan><tspan font-size="3.96" dy="1.80">6</tspan></text>
<line x1="354.50" y1="19.50" x2="366.30" y2="19.50" stroke="#000000" stroke-width="1.35" />
<text x="368.00" y="21.43" font-size="5.50" fill="#222" stroke="#222" stroke-width="0.12">0-0.05k <tspan font-style="italic">g</tspan></text>
<text x="397.00" y="21.43" font-size="5.50" fill="#7c7c7c">(XXL)</text>
<line x1="354.50" y1="26.32" x2="366.30" y2="26.32" stroke="#ff1414" stroke-width="1.35" />
<text x="368.00" y="28.25" font-size="5.50" fill="#222" stroke="#222" stroke-width="0.12">0.05-0.1k <tspan font-style="italic">g</tspan></text>
<text x="397.00" y="28.25" font-size="5.50" fill="#7c7c7c">(XL)</text>
<line x1="354.50" y1="33.14" x2="366.30" y2="33.14" stroke="#1c1cff" stroke-width="1.35" />
<text x="368.00" y="35.06" font-size="5.50" fill="#222" stroke="#222" stroke-width="0.12">0.1-0.4k <tspan font-style="italic">g</tspan></text>
<text x="397.00" y="35.06" font-size="5.50" fill="#7c7c7c">(L)</text>
<line x1="354.50" y1="39.96" x2="366.30" y2="39.96" stroke="#ff1cff" stroke-width="1.35" />
<text x="368.00" y="41.88" font-size="5.50" fill="#222" stroke="#222" stroke-width="0.12">0.4-1k <tspan font-style="italic">g</tspan></text>
<text x="397.00" y="41.88" font-size="5.50" fill="#7c7c7c">(M)</text>
<line x1="354.50" y1="46.78" x2="366.30" y2="46.78" stroke="#1a8a1a" stroke-width="1.35" />
<text x="368.00" y="48.70" font-size="5.50" fill="#222" stroke="#222" stroke-width="0.12">1-5k <tspan font-style="italic">g</tspan></text>
<text x="397.00" y="48.70" font-size="5.50" fill="#7c7c7c">(S)</text>
<line x1="354.50" y1="53.60" x2="366.30" y2="53.60" stroke="#1e1e8c" stroke-width="1.35" />
<text x="368.00" y="55.52" font-size="5.50" fill="#222" stroke="#222" stroke-width="0.12">5-10k <tspan font-style="italic">g</tspan></text>
<text x="397.00" y="55.52" font-size="5.50" fill="#7c7c7c">(XS)</text>
<line x1="354.50" y1="60.42" x2="366.30" y2="60.42" stroke="#8c14ff" stroke-width="1.35" />
<text x="368.00" y="62.34" font-size="5.50" fill="#222" stroke="#222" stroke-width="0.12">10-30k <tspan font-style="italic">g</tspan></text>
<text x="397.00" y="62.34" font-size="5.50" fill="#7c7c7c">(XXS)</text>
<rect x="456.30" y="3.70" width="109.50" height="111.60" fill="none" stroke="#5c5c5c" stroke-width="1.1"/>
<line x1="456.40" y1="115.30" x2="456.40" y2="117.30" stroke="#333" stroke-width="0.90" />
<line x1="456.40" y1="3.70" x2="456.40" y2="5.30" stroke="#333" stroke-width="0.90" />
<line x1="492.90" y1="115.30" x2="492.90" y2="117.30" stroke="#333" stroke-width="0.90" />
<line x1="492.90" y1="3.70" x2="492.90" y2="5.30" stroke="#333" stroke-width="0.90" />
<line x1="529.40" y1="115.30" x2="529.40" y2="117.30" stroke="#333" stroke-width="0.90" />
<line x1="529.40" y1="3.70" x2="529.40" y2="5.30" stroke="#333" stroke-width="0.90" />
<line x1="565.90" y1="115.30" x2="565.90" y2="117.30" stroke="#333" stroke-width="0.90" />
<line x1="565.90" y1="3.70" x2="565.90" y2="5.30" stroke="#333" stroke-width="0.90" />
<line x1="474.65" y1="115.30" x2="474.65" y2="116.50" stroke="#333" stroke-width="0.90" />
<line x1="474.65" y1="3.70" x2="474.65" y2="4.70" stroke="#333" stroke-width="0.90" />
<line x1="511.15" y1="115.30" x2="511.15" y2="116.50" stroke="#333" stroke-width="0.90" />
<line x1="511.15" y1="3.70" x2="511.15" y2="4.70" stroke="#333" stroke-width="0.90" />
<line x1="547.65" y1="115.30" x2="547.65" y2="116.50" stroke="#333" stroke-width="0.90" />
<line x1="547.65" y1="3.70" x2="547.65" y2="4.70" stroke="#333" stroke-width="0.90" />
<line x1="456.30" y1="10.40" x2="454.30" y2="10.40" stroke="#333" stroke-width="0.90" />
<line x1="565.80" y1="10.40" x2="564.20" y2="10.40" stroke="#333" stroke-width="0.90" />
<line x1="456.30" y1="27.80" x2="454.30" y2="27.80" stroke="#333" stroke-width="0.90" />
<line x1="565.80" y1="27.80" x2="564.20" y2="27.80" stroke="#333" stroke-width="0.90" />
<line x1="456.30" y1="54.20" x2="454.30" y2="54.20" stroke="#333" stroke-width="0.90" />
<line x1="565.80" y1="54.20" x2="564.20" y2="54.20" stroke="#333" stroke-width="0.90" />
<line x1="456.30" y1="72.50" x2="454.30" y2="72.50" stroke="#333" stroke-width="0.90" />
<line x1="565.80" y1="72.50" x2="564.20" y2="72.50" stroke="#333" stroke-width="0.90" />
<line x1="456.30" y1="90.80" x2="454.30" y2="90.80" stroke="#333" stroke-width="0.90" />
<line x1="565.80" y1="90.80" x2="564.20" y2="90.80" stroke="#333" stroke-width="0.90" />
<line x1="456.30" y1="109.10" x2="454.30" y2="109.10" stroke="#333" stroke-width="0.90" />
<line x1="565.80" y1="109.10" x2="564.20" y2="109.10" stroke="#333" stroke-width="0.90" />
<line x1="456.30" y1="19.10" x2="455.10" y2="19.10" stroke="#333" stroke-width="0.90" />
<line x1="565.80" y1="19.10" x2="564.80" y2="19.10" stroke="#333" stroke-width="0.90" />
<line x1="456.30" y1="36.50" x2="455.10" y2="36.50" stroke="#333" stroke-width="0.90" />
<line x1="565.80" y1="36.50" x2="564.80" y2="36.50" stroke="#333" stroke-width="0.90" />
<line x1="456.30" y1="63.35" x2="455.10" y2="63.35" stroke="#333" stroke-width="0.90" />
<line x1="565.80" y1="63.35" x2="564.80" y2="63.35" stroke="#333" stroke-width="0.90" />
<line x1="456.30" y1="81.65" x2="455.10" y2="81.65" stroke="#333" stroke-width="0.90" />
<line x1="565.80" y1="81.65" x2="564.80" y2="81.65" stroke="#333" stroke-width="0.90" />
<line x1="456.30" y1="99.95" x2="455.10" y2="99.95" stroke="#333" stroke-width="0.90" />
<line x1="565.80" y1="99.95" x2="564.80" y2="99.95" stroke="#333" stroke-width="0.90" />
<text x="452.00" y="13.07" font-size="8.50" text-anchor="end" fill="#161616" stroke="#161616" stroke-width="0.28" >3.3</text>
<text x="452.00" y="30.47" font-size="8.50" text-anchor="end" fill="#161616" stroke="#161616" stroke-width="0.28" >3.27</text>
<text x="452.00" y="56.88" font-size="8.50" text-anchor="end" fill="#161616" stroke="#161616" stroke-width="0.28" >3.12</text>
<text x="452.00" y="75.18" font-size="8.50" text-anchor="end" fill="#161616" stroke="#161616" stroke-width="0.28" >3.09</text>
<text x="452.00" y="93.48" font-size="8.50" text-anchor="end" fill="#161616" stroke="#161616" stroke-width="0.28" >3.06</text>
<text x="452.00" y="111.78" font-size="8.50" text-anchor="end" fill="#161616" stroke="#161616" stroke-width="0.28" >3.03</text>
<text x="456.40" y="125.67" font-size="8.50" text-anchor="middle" fill="#161616" stroke="#161616" stroke-width="0.28" >0</text>
<text x="492.90" y="125.67" font-size="8.50" text-anchor="middle" fill="#161616" stroke="#161616" stroke-width="0.28" >10</text>
<text x="529.40" y="125.67" font-size="8.50" text-anchor="middle" fill="#161616" stroke="#161616" stroke-width="0.28" >20</text>
<text x="565.90" y="125.67" font-size="8.50" text-anchor="middle" fill="#161616" stroke="#161616" stroke-width="0.28" >30</text>
<path d="M454.10,45.9 L458.50,43.6 L458.50,45.2 L454.10,47.5 Z" fill="#fff"/>
<path d="M454.10,45.9 l4.4,-2.3 M454.10,47.5 l4.4,-2.3" stroke="#222" stroke-width="0.8"/>
<path d="M563.60,45.9 L568.00,43.6 L568.00,45.2 L563.60,47.5 Z" fill="#fff"/>
<path d="M563.60,45.9 l4.4,-2.3 M563.60,47.5 l4.4,-2.3" stroke="#222" stroke-width="0.8"/>
<rect x="456.30" y="4.00" width="15.60" height="14.30" fill="#000"/>
<text x="464.10" y="16.19" font-size="12" font-weight="bold" text-anchor="middle" fill="#fff">G</text>
<path d="M484.20,11.70 C487.10,14.97 490.00,18.20 492.90,21.50 C494.27,23.05 495.63,24.90 497.00,26.20 C499.67,28.74 502.33,30.89 505.00,32.50 C508.70,34.73 512.40,36.67 516.10,37.80 C520.33,39.09 524.57,40.02 528.80,40.60 C533.60,41.25 538.40,41.53 543.20,42.00" fill="none" stroke="#ff1414" stroke-width="1.15" stroke-linejoin="round" stroke-linecap="butt"/>
<circle cx="484.20" cy="11.70" r="2.1" fill="#ff1414"/>
<circle cx="492.90" cy="21.20" r="2.1" fill="#ff1414"/>
<circle cx="497.00" cy="26.50" r="2.1" fill="#ff1414"/>
<circle cx="516.10" cy="38.20" r="2.1" fill="#ff1414"/>
<circle cx="528.80" cy="40.80" r="2.1" fill="#ff1414"/>
<circle cx="543.20" cy="42.00" r="2.1" fill="#ff1414"/>
<line x1="524.80" y1="10.80" x2="538.50" y2="10.80" stroke="#ff1414" stroke-width="1.25" />
<text x="539.80" y="12.80" font-size="6.30" text-anchor="start" fill="#333" stroke="#333" stroke-width="0.10" ><tspan font-size="6.30" dy="0.00">Ni</tspan><tspan font-size="4.16" dy="1.89">2</tspan><tspan font-size="6.30" dy="-1.89">P</tspan><tspan font-size="4.16" dy="1.89">2</tspan><tspan font-size="6.30" dy="-1.89">S</tspan><tspan font-size="4.16" dy="1.89">6</tspan></text>
<path d="M475.80,50.00 C476.87,53.67 477.93,57.71 479.00,61.00 C480.13,64.50 481.27,68.66 482.40,70.50 C484.93,74.61 487.47,75.99 490.00,78.50 C492.17,80.65 494.33,83.04 496.50,84.60 C499.33,86.65 502.17,88.10 505.00,89.50 C508.33,91.15 511.67,92.67 515.00,93.80 C518.33,94.93 521.67,95.93 525.00,96.60 C529.33,97.47 533.67,98.01 538.00,98.60 C543.00,99.28 548.00,99.80 553.00,100.40" fill="none" stroke="#000000" stroke-width="1.10" stroke-linejoin="round" stroke-linecap="butt"/>
<rect x="474.05" y="46.75" width="3.5" height="3.5" fill="#000"/>
<rect x="481.05" y="69.65" width="3.5" height="3.5" fill="#000"/>
<rect x="483.65" y="71.75" width="3.5" height="3.5" fill="#000"/>
<rect x="489.15" y="76.35" width="3.5" height="3.5" fill="#000"/>
<rect x="495.45" y="79.55" width="3.5" height="3.5" fill="#000"/>
<rect x="503.35" y="85.95" width="3.5" height="3.5" fill="#000"/>
<rect x="536.35" y="96.25" width="3.5" height="3.5" fill="#000"/>
<rect x="552.25" y="101.55" width="3.5" height="3.5" fill="#000"/>
<line x1="524.80" y1="57.70" x2="538.50" y2="57.70" stroke="#222" stroke-width="1.25" />
<text x="539.80" y="60.00" font-size="6.30" text-anchor="start" fill="#333" stroke="#333" stroke-width="0.10" ><tspan font-size="6.30" dy="0.00">Fe</tspan><tspan font-size="4.16" dy="1.89">2</tspan><tspan font-size="6.30" dy="-1.89">P</tspan><tspan font-size="4.16" dy="1.89">2</tspan><tspan font-size="6.30" dy="-1.89">S</tspan><tspan font-size="4.16" dy="1.89">6</tspan></text>
<text x="459.00" y="110.60" font-size="7.00" fill="#1a1a1a" stroke="#1a1a1a" stroke-width="0.22" >E</text>
<text x="463.70" y="112.40" font-size="4.60" fill="#1a1a1a" stroke="#1a1a1a" stroke-width="0.12" >A</text>
<text x="466.10" y="110.40" font-size="5.60" fill="#1a1a1a" stroke="#1a1a1a" stroke-width="0.22" >=</text>
<text x="469.70" y="110.60" font-size="7.00" fill="#1a1a1a" stroke="#1a1a1a" stroke-width="0.22" >E</text>
<text x="475.00" y="112.40" font-size="4.60" fill="#1a1a1a" stroke="#1a1a1a" stroke-width="0.12" >A</text>
<text x="474.40" y="107.70" font-size="4.20" fill="#1a1a1a" stroke="#1a1a1a" stroke-width="0.12" >Bulk</text>
<text x="483.60" y="110.40" font-size="5.60" fill="#1a1a1a" stroke="#1a1a1a" stroke-width="0.22" >+</text>
<text x="486.00" y="110.60" font-size="7.00" fill="#1a1a1a" stroke="#1a1a1a" stroke-width="0.22" >(</text>
<text x="488.70" y="110.60" font-size="7.00" fill="#1a1a1a" stroke="#1a1a1a" stroke-width="0.22" >E</text>
<text x="493.30" y="112.40" font-size="4.60" fill="#1a1a1a" stroke="#1a1a1a" stroke-width="0.12" >A</text>
<text x="493.20" y="107.30" font-size="4.20" fill="#1a1a1a" stroke="#1a1a1a" stroke-width="0.12" >ML</text>
<text x="498.80" y="110.20" font-size="6.00" fill="#1a1a1a" stroke="#1a1a1a" stroke-width="0.22" >-</text>
<text x="502.00" y="110.60" font-size="7.00" fill="#1a1a1a" stroke="#1a1a1a" stroke-width="0.22" >E</text>
<text x="505.80" y="112.40" font-size="4.60" fill="#1a1a1a" stroke="#1a1a1a" stroke-width="0.12" >A</text>
<text x="505.40" y="107.50" font-size="4.20" fill="#1a1a1a" stroke="#1a1a1a" stroke-width="0.12" >Bulk</text>
<text x="515.10" y="110.60" font-size="7.00" fill="#1a1a1a" stroke="#1a1a1a" stroke-width="0.22" >)</text>
<text x="516.80" y="110.60" font-size="7.00" fill="#1a1a1a" stroke="#1a1a1a" stroke-width="0.22" >e</text>
<text x="520.50" y="108.00" font-size="4.30" fill="#1a1a1a" stroke="#1a1a1a" stroke-width="0.12" >-(N-1)/N</text>
<text x="536.60" y="109.80" font-size="3.20" fill="#1a1a1a" stroke="#1a1a1a" stroke-width="0.12" >0</text>
<text x="510.00" y="136.50" font-size="8.30" text-anchor="middle" fill="#161616" stroke="#161616" stroke-width="0.28" ><tspan font-size="8.30" dy="0.00">&lt;N</tspan><tspan font-size="5.48" dy="2.49">vf</tspan><tspan font-size="8.30" dy="-2.49">&gt;</tspan></text>
<text transform="translate(430.89,59.50) rotate(-90)" font-size="8.25" text-anchor="middle" fill="#161616" stroke="#161616" stroke-width="0.28">Exciton Resonance (eV)</text>
<rect x="26.90" y="147.90" width="104.70" height="110.70" fill="none" stroke="#5c5c5c" stroke-width="1.1"/>
<line x1="26.90" y1="258.60" x2="26.90" y2="260.60" stroke="#333" stroke-width="0.90" />
<line x1="26.90" y1="147.90" x2="26.90" y2="149.50" stroke="#333" stroke-width="0.90" />
<line x1="47.84" y1="258.60" x2="47.84" y2="260.60" stroke="#333" stroke-width="0.90" />
<line x1="47.84" y1="147.90" x2="47.84" y2="149.50" stroke="#333" stroke-width="0.90" />
<line x1="68.78" y1="258.60" x2="68.78" y2="260.60" stroke="#333" stroke-width="0.90" />
<line x1="68.78" y1="147.90" x2="68.78" y2="149.50" stroke="#333" stroke-width="0.90" />
<line x1="89.72" y1="258.60" x2="89.72" y2="260.60" stroke="#333" stroke-width="0.90" />
<line x1="89.72" y1="147.90" x2="89.72" y2="149.50" stroke="#333" stroke-width="0.90" />
<line x1="110.66" y1="258.60" x2="110.66" y2="260.60" stroke="#333" stroke-width="0.90" />
<line x1="110.66" y1="147.90" x2="110.66" y2="149.50" stroke="#333" stroke-width="0.90" />
<line x1="131.60" y1="258.60" x2="131.60" y2="260.60" stroke="#333" stroke-width="0.90" />
<line x1="131.60" y1="147.90" x2="131.60" y2="149.50" stroke="#333" stroke-width="0.90" />
<line x1="37.37" y1="258.60" x2="37.37" y2="259.80" stroke="#333" stroke-width="0.90" />
<line x1="37.37" y1="147.90" x2="37.37" y2="148.90" stroke="#333" stroke-width="0.90" />
<line x1="58.31" y1="258.60" x2="58.31" y2="259.80" stroke="#333" stroke-width="0.90" />
<line x1="58.31" y1="147.90" x2="58.31" y2="148.90" stroke="#333" stroke-width="0.90" />
<line x1="79.25" y1="258.60" x2="79.25" y2="259.80" stroke="#333" stroke-width="0.90" />
<line x1="79.25" y1="147.90" x2="79.25" y2="148.90" stroke="#333" stroke-width="0.90" />
<line x1="100.19" y1="258.60" x2="100.19" y2="259.80" stroke="#333" stroke-width="0.90" />
<line x1="100.19" y1="147.90" x2="100.19" y2="148.90" stroke="#333" stroke-width="0.90" />
<line x1="121.13" y1="258.60" x2="121.13" y2="259.80" stroke="#333" stroke-width="0.90" />
<line x1="121.13" y1="147.90" x2="121.13" y2="148.90" stroke="#333" stroke-width="0.90" />
<line x1="26.90" y1="247.40" x2="24.90" y2="247.40" stroke="#333" stroke-width="0.90" />
<line x1="131.60" y1="247.40" x2="130.00" y2="247.40" stroke="#333" stroke-width="0.90" />
<line x1="26.90" y1="225.35" x2="24.90" y2="225.35" stroke="#333" stroke-width="0.90" />
<line x1="131.60" y1="225.35" x2="130.00" y2="225.35" stroke="#333" stroke-width="0.90" />
<line x1="26.90" y1="203.30" x2="24.90" y2="203.30" stroke="#333" stroke-width="0.90" />
<line x1="131.60" y1="203.30" x2="130.00" y2="203.30" stroke="#333" stroke-width="0.90" />
<line x1="26.90" y1="181.25" x2="24.90" y2="181.25" stroke="#333" stroke-width="0.90" />
<line x1="131.60" y1="181.25" x2="130.00" y2="181.25" stroke="#333" stroke-width="0.90" />
<line x1="26.90" y1="159.20" x2="24.90" y2="159.20" stroke="#333" stroke-width="0.90" />
<line x1="131.60" y1="159.20" x2="130.00" y2="159.20" stroke="#333" stroke-width="0.90" />
<line x1="26.90" y1="236.38" x2="25.70" y2="236.38" stroke="#333" stroke-width="0.90" />
<line x1="131.60" y1="236.38" x2="130.60" y2="236.38" stroke="#333" stroke-width="0.90" />
<line x1="26.90" y1="214.32" x2="25.70" y2="214.32" stroke="#333" stroke-width="0.90" />
<line x1="131.60" y1="214.32" x2="130.60" y2="214.32" stroke="#333" stroke-width="0.90" />
<line x1="26.90" y1="192.28" x2="25.70" y2="192.28" stroke="#333" stroke-width="0.90" />
<line x1="131.60" y1="192.28" x2="130.60" y2="192.28" stroke="#333" stroke-width="0.90" />
<line x1="26.90" y1="170.23" x2="25.70" y2="170.23" stroke="#333" stroke-width="0.90" />
<line x1="131.60" y1="170.23" x2="130.60" y2="170.23" stroke="#333" stroke-width="0.90" />
<text x="26.90" y="268.78" font-size="8.50" text-anchor="middle" fill="#161616" stroke="#161616" stroke-width="0.28" >0</text>
<text x="47.84" y="268.78" font-size="8.50" text-anchor="middle" fill="#161616" stroke="#161616" stroke-width="0.28" >100</text>
<text x="68.78" y="268.78" font-size="8.50" text-anchor="middle" fill="#161616" stroke="#161616" stroke-width="0.28" >200</text>
<text x="89.72" y="268.78" font-size="8.50" text-anchor="middle" fill="#161616" stroke="#161616" stroke-width="0.28" >300</text>
<text x="110.66" y="268.78" font-size="8.50" text-anchor="middle" fill="#161616" stroke="#161616" stroke-width="0.28" >400</text>
<text x="131.60" y="268.78" font-size="8.50" text-anchor="middle" fill="#161616" stroke="#161616" stroke-width="0.28" >500</text>
<text x="22.60" y="250.07" font-size="8.50" text-anchor="end" fill="#161616" stroke="#161616" stroke-width="0.28" >1</text>
<text x="22.60" y="228.02" font-size="8.50" text-anchor="end" fill="#161616" stroke="#161616" stroke-width="0.28" >2</text>
<text x="22.60" y="205.97" font-size="8.50" text-anchor="end" fill="#161616" stroke="#161616" stroke-width="0.28" >3</text>
<text x="22.60" y="183.92" font-size="8.50" text-anchor="end" fill="#161616" stroke="#161616" stroke-width="0.28" >4</text>
<text x="22.60" y="161.87" font-size="8.50" text-anchor="end" fill="#161616" stroke="#161616" stroke-width="0.28" >5</text>
<text x="79.70" y="281.80" font-size="8.30" text-anchor="middle" fill="#161616" stroke="#161616" stroke-width="0.28" >Mean Length, &lt;L&gt; (nm)</text>
<text transform="translate(9.05,205.70) rotate(-90)" font-size="8.15" text-anchor="middle" fill="#161616" stroke="#161616" stroke-width="0.28"><tspan font-size="8.15" dy="0.00">Intensity Ratio </tspan><tspan font-size="6.03" dy="-3.10">350</tspan><tspan font-size="8.15" dy="3.10">/</tspan><tspan font-size="6.03" dy="2.44">600</tspan><tspan font-size="8.15" dy="-2.44"> nm</tspan></text>
<rect x="26.90" y="147.60" width="16.10" height="13.90" fill="#000"/>
<text x="34.95" y="159.59" font-size="12" font-weight="bold" text-anchor="middle" fill="#fff">B</text>
<path d="M43.20,164.50 C44.80,168.67 46.40,173.12 48.00,177.00 C49.47,180.56 50.93,184.25 52.40,187.00 C53.60,189.25 54.80,190.98 56.00,192.80 C57.33,194.82 58.67,196.81 60.00,198.50 C62.93,202.22 65.87,205.23 68.80,208.30 C71.77,211.41 74.73,214.46 77.70,217.10 C80.63,219.71 83.57,221.97 86.50,224.20 C89.33,226.35 92.17,228.48 95.00,230.30 C98.00,232.22 101.00,233.96 104.00,235.50 C106.67,236.87 109.33,238.18 112.00,239.20 C115.07,240.38 118.13,241.20 121.20,242.20" fill="none" stroke="#000" stroke-width="1.20" stroke-linejoin="round" stroke-linecap="butt"/>
<path d="M43.80,165.00 C45.87,167.50 47.93,169.96 50.00,172.50 C52.00,174.96 54.00,177.61 56.00,180.00 C58.33,182.79 60.67,185.46 63.00,188.00 C66.13,191.41 69.27,194.84 72.40,197.70 C77.10,202.00 81.80,205.88 86.50,209.10 C91.50,212.53 96.50,215.05 101.50,218.00 C104.33,219.67 107.17,221.60 110.00,223.00 C113.73,224.84 117.47,226.13 121.20,227.70" fill="none" stroke="#000" stroke-width="1.20" stroke-linejoin="round" stroke-linecap="butt" stroke-dasharray="4.2,2.8"/>
<circle cx="43.60" cy="163.60" r="1.45" fill="#fff" stroke="#000" stroke-width="1.1"/>
<circle cx="56.40" cy="169.00" r="1.45" fill="#fff" stroke="#000" stroke-width="1.1"/>
<circle cx="56.80" cy="185.30" r="1.45" fill="#fff" stroke="#000" stroke-width="1.1"/>
<circle cx="63.30" cy="190.30" r="1.45" fill="#fff" stroke="#000" stroke-width="1.1"/>
<circle cx="78.30" cy="205.50" r="1.45" fill="#fff" stroke="#000" stroke-width="1.1"/>
<circle cx="103.80" cy="220.50" r="1.45" fill="#fff" stroke="#000" stroke-width="1.1"/>
<circle cx="121.30" cy="227.30" r="1.45" fill="#fff" stroke="#000" stroke-width="1.1"/>
<rect x="41.95" y="165.55" width="3.3" height="3.3" fill="#000"/>
<rect x="41.95" y="169.85" width="3.3" height="3.3" fill="#000"/>
<rect x="54.85" y="183.55" width="3.3" height="3.3" fill="#000"/>
<rect x="61.85" y="195.35" width="3.3" height="3.3" fill="#000"/>
<rect x="56.85" y="203.35" width="3.3" height="3.3" fill="#000"/>
<rect x="76.65" y="221.65" width="3.3" height="3.3" fill="#000"/>
<rect x="102.15" y="233.55" width="3.3" height="3.3" fill="#000"/>
<rect x="119.65" y="240.05" width="3.3" height="3.3" fill="#000"/>
<rect x="86.5" y="152.9" width="3.4" height="3.4" fill="#000"/>
<circle cx="88.2" cy="162.2" r="1.45" fill="#fff" stroke="#000" stroke-width="1.1"/>
<text x="97.00" y="156.70" font-size="6.00" text-anchor="start" fill="#222" stroke="#222" stroke-width="0.12" >Extinction</text>
<text x="97.00" y="164.30" font-size="6.00" text-anchor="start" fill="#222" stroke="#222" stroke-width="0.12" >Absorption</text>
<rect x="168.40" y="147.90" width="105.20" height="110.70" fill="none" stroke="#5c5c5c" stroke-width="1.1"/>
<line x1="179.30" y1="258.60" x2="179.30" y2="260.60" stroke="#333" stroke-width="0.90" />
<line x1="179.30" y1="147.90" x2="179.30" y2="149.50" stroke="#333" stroke-width="0.90" />
<line x1="200.33" y1="258.60" x2="200.33" y2="260.60" stroke="#333" stroke-width="0.90" />
<line x1="200.33" y1="147.90" x2="200.33" y2="149.50" stroke="#333" stroke-width="0.90" />
<line x1="221.35" y1="258.60" x2="221.35" y2="260.60" stroke="#333" stroke-width="0.90" />
<line x1="221.35" y1="147.90" x2="221.35" y2="149.50" stroke="#333" stroke-width="0.90" />
<line x1="242.38" y1="258.60" x2="242.38" y2="260.60" stroke="#333" stroke-width="0.90" />
<line x1="242.38" y1="147.90" x2="242.38" y2="149.50" stroke="#333" stroke-width="0.90" />
<line x1="263.40" y1="258.60" x2="263.40" y2="260.60" stroke="#333" stroke-width="0.90" />
<line x1="263.40" y1="147.90" x2="263.40" y2="149.50" stroke="#333" stroke-width="0.90" />
<line x1="168.79" y1="258.60" x2="168.79" y2="259.80" stroke="#333" stroke-width="0.90" />
<line x1="168.79" y1="147.90" x2="168.79" y2="148.90" stroke="#333" stroke-width="0.90" />
<line x1="189.81" y1="258.60" x2="189.81" y2="259.80" stroke="#333" stroke-width="0.90" />
<line x1="189.81" y1="147.90" x2="189.81" y2="148.90" stroke="#333" stroke-width="0.90" />
<line x1="210.84" y1="258.60" x2="210.84" y2="259.80" stroke="#333" stroke-width="0.90" />
<line x1="210.84" y1="147.90" x2="210.84" y2="148.90" stroke="#333" stroke-width="0.90" />
<line x1="231.86" y1="258.60" x2="231.86" y2="259.80" stroke="#333" stroke-width="0.90" />
<line x1="231.86" y1="147.90" x2="231.86" y2="148.90" stroke="#333" stroke-width="0.90" />
<line x1="252.89" y1="258.60" x2="252.89" y2="259.80" stroke="#333" stroke-width="0.90" />
<line x1="252.89" y1="147.90" x2="252.89" y2="148.90" stroke="#333" stroke-width="0.90" />
<line x1="273.91" y1="258.60" x2="273.91" y2="259.80" stroke="#333" stroke-width="0.90" />
<line x1="273.91" y1="147.90" x2="273.91" y2="148.90" stroke="#333" stroke-width="0.90" />
<line x1="168.40" y1="249.60" x2="166.40" y2="249.60" stroke="#333" stroke-width="0.90" />
<line x1="273.60" y1="249.60" x2="272.00" y2="249.60" stroke="#333" stroke-width="0.90" />
<line x1="168.40" y1="232.46" x2="166.40" y2="232.46" stroke="#333" stroke-width="0.90" />
<line x1="273.60" y1="232.46" x2="272.00" y2="232.46" stroke="#333" stroke-width="0.90" />
<line x1="168.40" y1="215.32" x2="166.40" y2="215.32" stroke="#333" stroke-width="0.90" />
<line x1="273.60" y1="215.32" x2="272.00" y2="215.32" stroke="#333" stroke-width="0.90" />
<line x1="168.40" y1="198.18" x2="166.40" y2="198.18" stroke="#333" stroke-width="0.90" />
<line x1="273.60" y1="198.18" x2="272.00" y2="198.18" stroke="#333" stroke-width="0.90" />
<line x1="168.40" y1="181.04" x2="166.40" y2="181.04" stroke="#333" stroke-width="0.90" />
<line x1="273.60" y1="181.04" x2="272.00" y2="181.04" stroke="#333" stroke-width="0.90" />
<line x1="168.40" y1="163.90" x2="166.40" y2="163.90" stroke="#333" stroke-width="0.90" />
<line x1="273.60" y1="163.90" x2="272.00" y2="163.90" stroke="#333" stroke-width="0.90" />
<line x1="168.40" y1="241.03" x2="167.20" y2="241.03" stroke="#333" stroke-width="0.90" />
<line x1="273.60" y1="241.03" x2="272.60" y2="241.03" stroke="#333" stroke-width="0.90" />
<line x1="168.40" y1="223.89" x2="167.20" y2="223.89" stroke="#333" stroke-width="0.90" />
<line x1="273.60" y1="223.89" x2="272.60" y2="223.89" stroke="#333" stroke-width="0.90" />
<line x1="168.40" y1="206.75" x2="167.20" y2="206.75" stroke="#333" stroke-width="0.90" />
<line x1="273.60" y1="206.75" x2="272.60" y2="206.75" stroke="#333" stroke-width="0.90" />
<line x1="168.40" y1="189.61" x2="167.20" y2="189.61" stroke="#333" stroke-width="0.90" />
<line x1="273.60" y1="189.61" x2="272.60" y2="189.61" stroke="#333" stroke-width="0.90" />
<line x1="168.40" y1="172.47" x2="167.20" y2="172.47" stroke="#333" stroke-width="0.90" />
<line x1="273.60" y1="172.47" x2="272.60" y2="172.47" stroke="#333" stroke-width="0.90" />
<line x1="168.40" y1="155.33" x2="167.20" y2="155.33" stroke="#333" stroke-width="0.90" />
<line x1="273.60" y1="155.33" x2="272.60" y2="155.33" stroke="#333" stroke-width="0.90" />
<text x="179.30" y="268.78" font-size="8.50" text-anchor="middle" fill="#161616" stroke="#161616" stroke-width="0.28" >100</text>
<text x="200.33" y="268.78" font-size="8.50" text-anchor="middle" fill="#161616" stroke="#161616" stroke-width="0.28" >150</text>
<text x="221.35" y="268.78" font-size="8.50" text-anchor="middle" fill="#161616" stroke="#161616" stroke-width="0.28" >200</text>
<text x="242.38" y="268.78" font-size="8.50" text-anchor="middle" fill="#161616" stroke="#161616" stroke-width="0.28" >250</text>
<text x="263.40" y="268.78" font-size="8.50" text-anchor="middle" fill="#161616" stroke="#161616" stroke-width="0.28" >300</text>
<text x="164.60" y="251.77" font-size="8.50" text-anchor="end" fill="#161616" stroke="#161616" stroke-width="0.28" >1</text>
<text x="164.60" y="234.63" font-size="8.50" text-anchor="end" fill="#161616" stroke="#161616" stroke-width="0.28" >1.1</text>
<text x="164.60" y="217.49" font-size="8.50" text-anchor="end" fill="#161616" stroke="#161616" stroke-width="0.28" >1.2</text>
<text x="164.60" y="200.35" font-size="8.50" text-anchor="end" fill="#161616" stroke="#161616" stroke-width="0.28" >1.3</text>
<text x="164.60" y="183.22" font-size="8.50" text-anchor="end" fill="#161616" stroke="#161616" stroke-width="0.28" >1.4</text>
<text x="164.60" y="166.07" font-size="8.50" text-anchor="end" fill="#161616" stroke="#161616" stroke-width="0.28" >1.5</text>
<text x="221.60" y="281.90" font-size="8.30" text-anchor="middle" fill="#161616" stroke="#161616" stroke-width="0.28" >Mean Legnth, &lt;L&gt; (nm)</text>
<text transform="translate(150.35,204.25) rotate(-90)" font-size="8.15" text-anchor="middle" fill="#161616" stroke="#161616" stroke-width="0.28"><tspan font-size="8.15" dy="0.00">Intensity Ratio </tspan><tspan font-size="6.03" dy="-3.10">370</tspan><tspan font-size="8.15" dy="3.10">/</tspan><tspan font-size="6.03" dy="2.44">460</tspan><tspan font-size="8.15" dy="-2.44"> nm</tspan></text>
<rect x="168.40" y="147.40" width="16.20" height="14.20" fill="#000"/>
<text x="176.50" y="159.54" font-size="12" font-weight="bold" text-anchor="middle" fill="#fff">D</text>
<line x1="183.50" y1="167.00" x2="262.00" y2="236.50" stroke="#ff1414" stroke-width="1.20" />
<line x1="184.00" y1="177.00" x2="261.50" y2="236.50" stroke="#ff1414" stroke-width="1.20" stroke-dasharray="4.5,3"/>
<circle cx="183.60" cy="166.60" r="2.0" fill="#ff1414"/>
<circle cx="195.10" cy="180.60" r="2.0" fill="#ff1414"/>
<circle cx="206.20" cy="188.90" r="2.0" fill="#ff1414"/>
<circle cx="226.90" cy="210.30" r="2.0" fill="#ff1414"/>
<circle cx="244.00" cy="214.80" r="2.0" fill="#ff1414"/>
<circle cx="247.80" cy="222.90" r="2.0" fill="#ff1414"/>
<circle cx="261.40" cy="237.50" r="2.0" fill="#ff1414"/>
<circle cx="183.60" cy="173.60" r="1.5" fill="#fff" stroke="#ff1414" stroke-width="1.15"/>
<circle cx="195.10" cy="192.60" r="1.5" fill="#fff" stroke="#ff1414" stroke-width="1.15"/>
<circle cx="206.20" cy="194.60" r="1.5" fill="#fff" stroke="#ff1414" stroke-width="1.15"/>
<circle cx="227.20" cy="227.10" r="1.5" fill="#fff" stroke="#ff1414" stroke-width="1.15"/>
<circle cx="244.00" cy="218.50" r="1.5" fill="#fff" stroke="#ff1414" stroke-width="1.15"/>
<circle cx="247.80" cy="229.60" r="1.5" fill="#fff" stroke="#ff1414" stroke-width="1.15"/>
<circle cx="261.40" cy="238.50" r="1.5" fill="#fff" stroke="#ff1414" stroke-width="1.15"/>
<circle cx="230.1" cy="154.6" r="2.0" fill="#ff1414"/>
<circle cx="230.1" cy="162.2" r="1.5" fill="#fff" stroke="#ff1414" stroke-width="1.15"/>
<text x="238.30" y="156.70" font-size="6.00" text-anchor="start" fill="#222" stroke="#222" stroke-width="0.12" >Extinction</text>
<text x="238.30" y="164.30" font-size="6.00" text-anchor="start" fill="#222" stroke="#222" stroke-width="0.12" >Absorption</text>
<defs><clipPath id="cF"><rect x="309.90" y="147.90" width="104.70" height="110.70"/></clipPath></defs>
<rect x="309.90" y="147.90" width="104.70" height="110.70" fill="none" stroke="#5c5c5c" stroke-width="1.1"/>
<line x1="309.90" y1="258.60" x2="309.90" y2="260.60" stroke="#333" stroke-width="0.90" />
<line x1="309.90" y1="147.90" x2="309.90" y2="149.50" stroke="#333" stroke-width="0.90" />
<line x1="336.08" y1="258.60" x2="336.08" y2="260.60" stroke="#333" stroke-width="0.90" />
<line x1="336.08" y1="147.90" x2="336.08" y2="149.50" stroke="#333" stroke-width="0.90" />
<line x1="362.26" y1="258.60" x2="362.26" y2="260.60" stroke="#333" stroke-width="0.90" />
<line x1="362.26" y1="147.90" x2="362.26" y2="149.50" stroke="#333" stroke-width="0.90" />
<line x1="388.44" y1="258.60" x2="388.44" y2="260.60" stroke="#333" stroke-width="0.90" />
<line x1="388.44" y1="147.90" x2="388.44" y2="149.50" stroke="#333" stroke-width="0.90" />
<line x1="414.62" y1="258.60" x2="414.62" y2="260.60" stroke="#333" stroke-width="0.90" />
<line x1="414.62" y1="147.90" x2="414.62" y2="149.50" stroke="#333" stroke-width="0.90" />
<line x1="322.99" y1="258.60" x2="322.99" y2="259.80" stroke="#333" stroke-width="0.90" />
<line x1="322.99" y1="147.90" x2="322.99" y2="148.90" stroke="#333" stroke-width="0.90" />
<line x1="349.17" y1="258.60" x2="349.17" y2="259.80" stroke="#333" stroke-width="0.90" />
<line x1="349.17" y1="147.90" x2="349.17" y2="148.90" stroke="#333" stroke-width="0.90" />
<line x1="375.35" y1="258.60" x2="375.35" y2="259.80" stroke="#333" stroke-width="0.90" />
<line x1="375.35" y1="147.90" x2="375.35" y2="148.90" stroke="#333" stroke-width="0.90" />
<line x1="401.53" y1="258.60" x2="401.53" y2="259.80" stroke="#333" stroke-width="0.90" />
<line x1="401.53" y1="147.90" x2="401.53" y2="148.90" stroke="#333" stroke-width="0.90" />
<line x1="309.90" y1="258.50" x2="307.90" y2="258.50" stroke="#333" stroke-width="0.90" />
<line x1="414.60" y1="258.50" x2="413.00" y2="258.50" stroke="#333" stroke-width="0.90" />
<line x1="309.90" y1="236.28" x2="307.90" y2="236.28" stroke="#333" stroke-width="0.90" />
<line x1="414.60" y1="236.28" x2="413.00" y2="236.28" stroke="#333" stroke-width="0.90" />
<line x1="309.90" y1="214.06" x2="307.90" y2="214.06" stroke="#333" stroke-width="0.90" />
<line x1="414.60" y1="214.06" x2="413.00" y2="214.06" stroke="#333" stroke-width="0.90" />
<line x1="309.90" y1="191.84" x2="307.90" y2="191.84" stroke="#333" stroke-width="0.90" />
<line x1="414.60" y1="191.84" x2="413.00" y2="191.84" stroke="#333" stroke-width="0.90" />
<line x1="309.90" y1="169.62" x2="307.90" y2="169.62" stroke="#333" stroke-width="0.90" />
<line x1="414.60" y1="169.62" x2="413.00" y2="169.62" stroke="#333" stroke-width="0.90" />
<line x1="309.90" y1="147.40" x2="307.90" y2="147.40" stroke="#333" stroke-width="0.90" />
<line x1="414.60" y1="147.40" x2="413.00" y2="147.40" stroke="#333" stroke-width="0.90" />
<line x1="309.90" y1="247.39" x2="308.70" y2="247.39" stroke="#333" stroke-width="0.90" />
<line x1="414.60" y1="247.39" x2="413.60" y2="247.39" stroke="#333" stroke-width="0.90" />
<line x1="309.90" y1="225.17" x2="308.70" y2="225.17" stroke="#333" stroke-width="0.90" />
<line x1="414.60" y1="225.17" x2="413.60" y2="225.17" stroke="#333" stroke-width="0.90" />
<line x1="309.90" y1="202.95" x2="308.70" y2="202.95" stroke="#333" stroke-width="0.90" />
<line x1="414.60" y1="202.95" x2="413.60" y2="202.95" stroke="#333" stroke-width="0.90" />
<line x1="309.90" y1="180.73" x2="308.70" y2="180.73" stroke="#333" stroke-width="0.90" />
<line x1="414.60" y1="180.73" x2="413.60" y2="180.73" stroke="#333" stroke-width="0.90" />
<line x1="309.90" y1="158.51" x2="308.70" y2="158.51" stroke="#333" stroke-width="0.90" />
<line x1="414.60" y1="158.51" x2="413.60" y2="158.51" stroke="#333" stroke-width="0.90" />
<text x="309.90" y="269.08" font-size="8.50" text-anchor="middle" fill="#161616" stroke="#161616" stroke-width="0.28" >0</text>
<text x="336.08" y="269.08" font-size="8.50" text-anchor="middle" fill="#161616" stroke="#161616" stroke-width="0.28" >200</text>
<text x="362.26" y="269.08" font-size="8.50" text-anchor="middle" fill="#161616" stroke="#161616" stroke-width="0.28" >400</text>
<text x="388.44" y="269.08" font-size="8.50" text-anchor="middle" fill="#161616" stroke="#161616" stroke-width="0.28" >600</text>
<text x="414.62" y="269.08" font-size="8.50" text-anchor="middle" fill="#161616" stroke="#161616" stroke-width="0.28" >800</text>
<text x="306.20" y="261.18" font-size="8.50" text-anchor="end" fill="#161616" stroke="#161616" stroke-width="0.28" >0</text>
<text x="306.20" y="238.95" font-size="8.50" text-anchor="end" fill="#161616" stroke="#161616" stroke-width="0.28" >2</text>
<text x="306.20" y="216.73" font-size="8.50" text-anchor="end" fill="#161616" stroke="#161616" stroke-width="0.28" >4</text>
<text x="306.20" y="194.51" font-size="8.50" text-anchor="end" fill="#161616" stroke="#161616" stroke-width="0.28" >6</text>
<text x="306.20" y="172.29" font-size="8.50" text-anchor="end" fill="#161616" stroke="#161616" stroke-width="0.28" >8</text>
<text x="306.20" y="150.07" font-size="8.50" text-anchor="end" fill="#161616" stroke="#161616" stroke-width="0.28" >10</text>
<text x="362.70" y="281.90" font-size="8.30" text-anchor="middle" fill="#161616" stroke="#161616" stroke-width="0.28" >Mean Length, &lt;L&gt; (nm)</text>
<text transform="translate(290.35,203.10) rotate(-90)" font-size="8.15" text-anchor="middle" fill="#161616" stroke="#161616" stroke-width="0.28"><tspan font-size="8.15" dy="0.00">Intensity Ratio </tspan><tspan font-size="6.03" dy="-3.10">310</tspan><tspan font-size="8.15" dy="3.10">/</tspan><tspan font-size="6.03" dy="2.44">400</tspan><tspan font-size="8.15" dy="-2.44"> nm</tspan></text>
<path d="M326.00,197.00 C327.33,200.67 328.67,204.81 330.00,208.00 C331.67,211.99 333.33,215.57 335.00,218.50 C337.00,222.02 339.00,225.14 341.00,227.50 C343.13,230.02 345.27,232.06 347.40,233.70 C349.93,235.65 352.47,237.29 355.00,238.50 C359.83,240.80 364.67,242.41 369.50,243.80 C373.67,245.00 377.83,245.99 382.00,246.80 C386.50,247.68 391.00,248.27 395.50,249.00" fill="none" stroke="#1c1cff" stroke-width="1.30" stroke-linejoin="round" stroke-linecap="butt"/>
<path d="M321.50,147.00 C322.87,150.93 324.23,155.07 325.60,158.80 C327.37,163.62 329.13,168.76 330.90,172.50 C332.67,176.24 334.43,178.44 336.20,182.00 C337.80,185.22 339.40,189.98 341.00,193.00 C342.93,196.65 344.87,199.54 346.80,202.20 C349.53,205.96 352.27,209.30 355.00,212.00 C359.67,216.62 364.33,220.11 369.00,223.50 C373.33,226.65 377.67,229.31 382.00,232.00 C386.50,234.80 391.00,237.33 395.50,240.00" fill="none" stroke="#1c1cff" stroke-width="1.30" stroke-linejoin="round" stroke-linecap="butt" stroke-dasharray="5,3" clip-path="url(#cF)"/>
<rect x="309.40" y="147.60" width="16.00" height="13.60" fill="#000"/>
<text x="317.40" y="159.44" font-size="12" font-weight="bold" text-anchor="middle" fill="#fff">F</text>
<polygon points="326.20,194.59 324.00,198.78 328.40,198.78" fill="#1c1cff"/>
<polygon points="332.40,207.28 330.19,211.48 334.60,211.48" fill="#1c1cff"/>
<polygon points="337.50,222.78 335.30,226.98 339.70,226.98" fill="#1c1cff"/>
<polygon points="347.40,235.59 345.19,239.78 349.60,239.78" fill="#1c1cff"/>
<polygon points="352.50,236.99 350.30,241.19 354.70,241.19" fill="#1c1cff"/>
<polygon points="361.00,237.59 358.80,241.78 363.20,241.78" fill="#1c1cff"/>
<polygon points="369.50,242.09 367.30,246.28 371.70,246.28" fill="#1c1cff"/>
<polygon points="395.50,243.19 393.30,247.38 397.70,247.38" fill="#1c1cff"/>
<polygon points="332.40,153.92 330.50,157.54 334.30,157.54" fill="#fff" stroke="#1c1cff" stroke-width="1.05" stroke-linejoin="round"/>
<polygon points="326.00,166.22 324.10,169.84 327.90,169.84" fill="#fff" stroke="#1c1cff" stroke-width="1.05" stroke-linejoin="round"/>
<polygon points="337.20,180.02 335.30,183.64 339.10,183.64" fill="#fff" stroke="#1c1cff" stroke-width="1.05" stroke-linejoin="round"/>
<polygon points="338.70,188.52 336.80,192.14 340.60,192.14" fill="#fff" stroke="#1c1cff" stroke-width="1.05" stroke-linejoin="round"/>
<polygon points="347.40,203.42 345.50,207.04 349.30,207.04" fill="#fff" stroke="#1c1cff" stroke-width="1.05" stroke-linejoin="round"/>
<polygon points="352.50,213.92 350.60,217.54 354.40,217.54" fill="#fff" stroke="#1c1cff" stroke-width="1.05" stroke-linejoin="round"/>
<polygon points="361.00,219.82 359.10,223.44 362.90,223.44" fill="#fff" stroke="#1c1cff" stroke-width="1.05" stroke-linejoin="round"/>
<polygon points="368.60,225.42 366.70,229.04 370.50,229.04" fill="#fff" stroke="#1c1cff" stroke-width="1.05" stroke-linejoin="round"/>
<polygon points="395.50,229.72 393.60,233.34 397.40,233.34" fill="#fff" stroke="#1c1cff" stroke-width="1.05" stroke-linejoin="round"/>
<polygon points="371.10,151.69 368.90,155.88 373.31,155.88" fill="#1c1cff"/>
<polygon points="371.10,159.62 369.20,163.24 373.00,163.24" fill="#fff" stroke="#1c1cff" stroke-width="1.05" stroke-linejoin="round"/>
<text x="379.60" y="156.50" font-size="6.00" text-anchor="start" fill="#222" stroke="#222" stroke-width="0.12" >Extinction</text>
<text x="379.60" y="164.10" font-size="6.00" text-anchor="start" fill="#222" stroke="#222" stroke-width="0.12" >Absorption</text>
<rect x="456.70" y="147.90" width="109.80" height="110.50" fill="none" stroke="#5c5c5c" stroke-width="1.1"/>
<line x1="456.70" y1="258.40" x2="456.70" y2="260.40" stroke="#333" stroke-width="0.90" />
<line x1="456.70" y1="147.90" x2="456.70" y2="149.50" stroke="#333" stroke-width="0.90" />
<line x1="493.40" y1="258.40" x2="493.40" y2="260.40" stroke="#333" stroke-width="0.90" />
<line x1="493.40" y1="147.90" x2="493.40" y2="149.50" stroke="#333" stroke-width="0.90" />
<line x1="530.10" y1="258.40" x2="530.10" y2="260.40" stroke="#333" stroke-width="0.90" />
<line x1="530.10" y1="147.90" x2="530.10" y2="149.50" stroke="#333" stroke-width="0.90" />
<line x1="566.80" y1="258.40" x2="566.80" y2="260.40" stroke="#333" stroke-width="0.90" />
<line x1="566.80" y1="147.90" x2="566.80" y2="149.50" stroke="#333" stroke-width="0.90" />
<line x1="475.05" y1="258.40" x2="475.05" y2="259.60" stroke="#333" stroke-width="0.90" />
<line x1="475.05" y1="147.90" x2="475.05" y2="148.90" stroke="#333" stroke-width="0.90" />
<line x1="511.75" y1="258.40" x2="511.75" y2="259.60" stroke="#333" stroke-width="0.90" />
<line x1="511.75" y1="147.90" x2="511.75" y2="148.90" stroke="#333" stroke-width="0.90" />
<line x1="548.45" y1="258.40" x2="548.45" y2="259.60" stroke="#333" stroke-width="0.90" />
<line x1="548.45" y1="147.90" x2="548.45" y2="148.90" stroke="#333" stroke-width="0.90" />
<line x1="456.70" y1="258.22" x2="454.70" y2="258.22" stroke="#333" stroke-width="0.90" />
<line x1="566.50" y1="258.22" x2="564.90" y2="258.22" stroke="#333" stroke-width="0.90" />
<line x1="456.70" y1="239.85" x2="454.70" y2="239.85" stroke="#333" stroke-width="0.90" />
<line x1="566.50" y1="239.85" x2="564.90" y2="239.85" stroke="#333" stroke-width="0.90" />
<line x1="456.70" y1="221.48" x2="454.70" y2="221.48" stroke="#333" stroke-width="0.90" />
<line x1="566.50" y1="221.48" x2="564.90" y2="221.48" stroke="#333" stroke-width="0.90" />
<line x1="456.70" y1="203.11" x2="454.70" y2="203.11" stroke="#333" stroke-width="0.90" />
<line x1="566.50" y1="203.11" x2="564.90" y2="203.11" stroke="#333" stroke-width="0.90" />
<line x1="456.70" y1="184.74" x2="454.70" y2="184.74" stroke="#333" stroke-width="0.90" />
<line x1="566.50" y1="184.74" x2="564.90" y2="184.74" stroke="#333" stroke-width="0.90" />
<line x1="456.70" y1="166.37" x2="454.70" y2="166.37" stroke="#333" stroke-width="0.90" />
<line x1="566.50" y1="166.37" x2="564.90" y2="166.37" stroke="#333" stroke-width="0.90" />
<line x1="456.70" y1="148.00" x2="454.70" y2="148.00" stroke="#333" stroke-width="0.90" />
<line x1="566.50" y1="148.00" x2="564.90" y2="148.00" stroke="#333" stroke-width="0.90" />
<line x1="456.70" y1="249.04" x2="455.50" y2="249.04" stroke="#333" stroke-width="0.90" />
<line x1="566.50" y1="249.04" x2="565.50" y2="249.04" stroke="#333" stroke-width="0.90" />
<line x1="456.70" y1="230.67" x2="455.50" y2="230.67" stroke="#333" stroke-width="0.90" />
<line x1="566.50" y1="230.67" x2="565.50" y2="230.67" stroke="#333" stroke-width="0.90" />
<line x1="456.70" y1="212.30" x2="455.50" y2="212.30" stroke="#333" stroke-width="0.90" />
<line x1="566.50" y1="212.30" x2="565.50" y2="212.30" stroke="#333" stroke-width="0.90" />
<line x1="456.70" y1="193.93" x2="455.50" y2="193.93" stroke="#333" stroke-width="0.90" />
<line x1="566.50" y1="193.93" x2="565.50" y2="193.93" stroke="#333" stroke-width="0.90" />
<line x1="456.70" y1="175.56" x2="455.50" y2="175.56" stroke="#333" stroke-width="0.90" />
<line x1="566.50" y1="175.56" x2="565.50" y2="175.56" stroke="#333" stroke-width="0.90" />
<line x1="456.70" y1="157.19" x2="455.50" y2="157.19" stroke="#333" stroke-width="0.90" />
<line x1="566.50" y1="157.19" x2="565.50" y2="157.19" stroke="#333" stroke-width="0.90" />
<text x="456.70" y="269.08" font-size="8.50" text-anchor="middle" fill="#161616" stroke="#161616" stroke-width="0.28" >1</text>
<text x="493.40" y="269.08" font-size="8.50" text-anchor="middle" fill="#161616" stroke="#161616" stroke-width="0.28" >2</text>
<text x="530.10" y="269.08" font-size="8.50" text-anchor="middle" fill="#161616" stroke="#161616" stroke-width="0.28" >3</text>
<text x="566.80" y="269.08" font-size="8.50" text-anchor="middle" fill="#161616" stroke="#161616" stroke-width="0.28" >4</text>
<text x="452.60" y="260.90" font-size="8.50" text-anchor="end" fill="#161616" stroke="#161616" stroke-width="0.28" >2</text>
<text x="452.60" y="242.53" font-size="8.50" text-anchor="end" fill="#161616" stroke="#161616" stroke-width="0.28" >3</text>
<text x="452.60" y="224.16" font-size="8.50" text-anchor="end" fill="#161616" stroke="#161616" stroke-width="0.28" >4</text>
<text x="452.60" y="205.78" font-size="8.50" text-anchor="end" fill="#161616" stroke="#161616" stroke-width="0.28" >5</text>
<text x="452.60" y="187.41" font-size="8.50" text-anchor="end" fill="#161616" stroke="#161616" stroke-width="0.28" >6</text>
<text x="452.60" y="169.04" font-size="8.50" text-anchor="end" fill="#161616" stroke="#161616" stroke-width="0.28" >7</text>
<text x="452.60" y="150.67" font-size="8.50" text-anchor="end" fill="#161616" stroke="#161616" stroke-width="0.28" >8</text>
<text x="511.50" y="280.70" font-size="8.30" text-anchor="middle" fill="#161616" stroke="#161616" stroke-width="0.28" ><tspan font-size="8.30" dy="0.00">E</tspan><tspan font-size="5.48" dy="2.49">Bulk</tspan><tspan font-size="8.30" dy="-2.49"> (eV)</tspan></text>
<text transform="translate(441.16,203.70) rotate(-90)" font-size="8.16" text-anchor="middle" fill="#161616" stroke="#161616" stroke-width="0.28"><tspan font-size="8.16" dy="0.00">Exciton Shift Rate, N</tspan><tspan font-size="5.39" dy="2.45">0</tspan></text>
<rect x="456.70" y="147.60" width="16.00" height="13.60" fill="#000"/>
<text x="464.70" y="159.44" font-size="12" font-weight="bold" text-anchor="middle" fill="#fff">H</text>
<line x1="476.50" y1="237.70" x2="476.50" y2="252.70" stroke="#cfcfcf" stroke-width="0.75" />
<line x1="475.40" y1="237.70" x2="477.60" y2="237.70" stroke="#d6d6d6" stroke-width="0.60" />
<line x1="475.40" y1="252.70" x2="477.60" y2="252.70" stroke="#d6d6d6" stroke-width="0.60" />
<line x1="479.50" y1="222.70" x2="479.50" y2="246.50" stroke="#cfcfcf" stroke-width="0.75" />
<line x1="478.40" y1="222.70" x2="480.60" y2="222.70" stroke="#d6d6d6" stroke-width="0.60" />
<line x1="478.40" y1="246.50" x2="480.60" y2="246.50" stroke="#d6d6d6" stroke-width="0.60" />
<line x1="487.60" y1="221.80" x2="487.60" y2="244.80" stroke="#cfcfcf" stroke-width="0.75" />
<line x1="486.50" y1="221.80" x2="488.70" y2="221.80" stroke="#d6d6d6" stroke-width="0.60" />
<line x1="486.50" y1="244.80" x2="488.70" y2="244.80" stroke="#d6d6d6" stroke-width="0.60" />
<line x1="491.90" y1="212.40" x2="491.90" y2="242.10" stroke="#cfcfcf" stroke-width="0.75" />
<line x1="490.80" y1="212.40" x2="493.00" y2="212.40" stroke="#d6d6d6" stroke-width="0.60" />
<line x1="490.80" y1="242.10" x2="493.00" y2="242.10" stroke="#d6d6d6" stroke-width="0.60" />
<line x1="531.50" y1="177.30" x2="531.50" y2="215.60" stroke="#cfcfcf" stroke-width="0.75" />
<line x1="530.40" y1="177.30" x2="532.60" y2="177.30" stroke="#d6d6d6" stroke-width="0.60" />
<line x1="530.40" y1="215.60" x2="532.60" y2="215.60" stroke="#d6d6d6" stroke-width="0.60" />
<line x1="539.00" y1="171.10" x2="539.00" y2="200.70" stroke="#cfcfcf" stroke-width="0.75" />
<line x1="537.90" y1="171.10" x2="540.10" y2="171.10" stroke="#d6d6d6" stroke-width="0.60" />
<line x1="537.90" y1="200.70" x2="540.10" y2="200.70" stroke="#d6d6d6" stroke-width="0.60" />
<line x1="476.50" y1="244.00" x2="539.00" y2="183.50" stroke="#1a1aff" stroke-width="1.25" />
<rect x="474.80" y="242.20" width="3.4" height="3.4" fill="#000"/>
<rect x="477.80" y="233.30" width="3.4" height="3.4" fill="#000"/>
<rect x="485.90" y="231.60" width="3.4" height="3.4" fill="#000"/>
<rect x="490.20" y="225.40" width="3.4" height="3.4" fill="#000"/>
<rect x="529.80" y="194.80" width="3.4" height="3.4" fill="#000"/>
<rect x="537.30" y="184.20" width="3.4" height="3.4" fill="#000"/>
<text x="484.40" y="252.17" font-size="6.20" text-anchor="start" fill="#2a2a2a" stroke="#2a2a2a" stroke-width="0.08" ><tspan font-size="6.20" dy="0.00">TMDs</tspan><tspan font-size="4.09" dy="-2.36">[41]</tspan></text>
<text x="532.2" y="157.40" font-size="6.0" fill="#2020ff" stroke="#2020ff" stroke-width="0.22"><tspan font-style="italic">N</tspan><tspan font-size="4" dy="1.3">0</tspan><tspan dy="-1.3"> = 2·</tspan><tspan font-style="italic">E</tspan><tspan font-size="4" dy="1.3">Bulk</tspan></text>
</svg></body></html>
